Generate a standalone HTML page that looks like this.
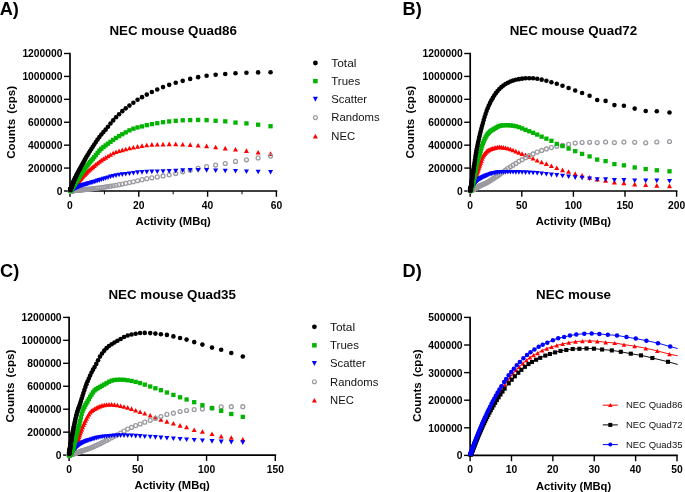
<!DOCTYPE html>
<html><head><meta charset="utf-8"><style>
html,body{margin:0;padding:0;background:#fff;}
body{width:685px;height:492px;overflow:hidden;}
svg{display:block;will-change:transform;}
text{font-family:"Liberation Sans", sans-serif;}
</style></head><body>
<svg width="685" height="492" viewBox="0 0 685 492">
<rect width="685" height="492" fill="#fff"/>
<path d="M70 52.8V191.85" stroke="#000" stroke-width="1.7" fill="none"/>
<path d="M69.15 191H277.25" stroke="#000" stroke-width="1.7" fill="none"/>
<path d="M64 191H70" stroke="#000" stroke-width="1.4"/>
<path d="M64 168.08H70" stroke="#000" stroke-width="1.4"/>
<path d="M64 145.17H70" stroke="#000" stroke-width="1.4"/>
<path d="M64 122.25H70" stroke="#000" stroke-width="1.4"/>
<path d="M64 99.33H70" stroke="#000" stroke-width="1.4"/>
<path d="M64 76.42H70" stroke="#000" stroke-width="1.4"/>
<path d="M64 53.5H70" stroke="#000" stroke-width="1.4"/>
<path d="M70 191V196.8" stroke="#000" stroke-width="1.4"/>
<path d="M138.8 191V196.8" stroke="#000" stroke-width="1.4"/>
<path d="M207.6 191V196.8" stroke="#000" stroke-width="1.4"/>
<path d="M276.4 191V196.8" stroke="#000" stroke-width="1.4"/>
<path d="M104.4 191V194.3" stroke="#000" stroke-width="1"/>
<path d="M173.2 191V194.3" stroke="#000" stroke-width="1"/>
<path d="M242 191V194.3" stroke="#000" stroke-width="1"/>
<text x="62.5" y="194.9" font-size="10" font-weight="bold" text-anchor="end" fill="#000" textLength="5.73" lengthAdjust="spacingAndGlyphs">0</text>
<text x="62.5" y="171.98" font-size="10" font-weight="bold" text-anchor="end" fill="#000" textLength="34.37" lengthAdjust="spacingAndGlyphs">200000</text>
<text x="62.5" y="149.07" font-size="10" font-weight="bold" text-anchor="end" fill="#000" textLength="34.37" lengthAdjust="spacingAndGlyphs">400000</text>
<text x="62.5" y="126.15" font-size="10" font-weight="bold" text-anchor="end" fill="#000" textLength="34.37" lengthAdjust="spacingAndGlyphs">600000</text>
<text x="62.5" y="103.23" font-size="10" font-weight="bold" text-anchor="end" fill="#000" textLength="34.37" lengthAdjust="spacingAndGlyphs">800000</text>
<text x="62.5" y="80.32" font-size="10" font-weight="bold" text-anchor="end" fill="#000" textLength="40.1" lengthAdjust="spacingAndGlyphs">1000000</text>
<text x="62.5" y="57.4" font-size="10" font-weight="bold" text-anchor="end" fill="#000" textLength="40.1" lengthAdjust="spacingAndGlyphs">1200000</text>
<text x="70" y="208.8" font-size="10" font-weight="bold" text-anchor="middle" fill="#000" textLength="5.73" lengthAdjust="spacingAndGlyphs">0</text>
<text x="138.8" y="208.8" font-size="10" font-weight="bold" text-anchor="middle" fill="#000" textLength="11.46" lengthAdjust="spacingAndGlyphs">20</text>
<text x="207.6" y="208.8" font-size="10" font-weight="bold" text-anchor="middle" fill="#000" textLength="11.46" lengthAdjust="spacingAndGlyphs">40</text>
<text x="276.4" y="208.8" font-size="10" font-weight="bold" text-anchor="middle" fill="#000" textLength="11.46" lengthAdjust="spacingAndGlyphs">60</text>
<text x="173.2" y="224.8" font-size="11.2" font-weight="bold" text-anchor="middle" fill="#000">Activity (MBq)</text>
<text transform="translate(15 122.4) rotate(-90)" font-size="11.6" font-weight="bold" text-anchor="middle">Counts <tspan dx="2">(cps)</tspan></text>
<text x="173.2" y="35.2" font-size="13.35" font-weight="bold" text-anchor="middle" fill="#000">NEC mouse Quad86</text>
<text x="-0.3" y="14.8" font-size="18.2" font-weight="bold" text-anchor="start" fill="#000">A)</text>
<path d="M470.2 52.8V191.85" stroke="#000" stroke-width="1.7" fill="none"/>
<path d="M469.35 191H677.45" stroke="#000" stroke-width="1.7" fill="none"/>
<path d="M464.2 191H470.2" stroke="#000" stroke-width="1.4"/>
<path d="M464.2 168.08H470.2" stroke="#000" stroke-width="1.4"/>
<path d="M464.2 145.17H470.2" stroke="#000" stroke-width="1.4"/>
<path d="M464.2 122.25H470.2" stroke="#000" stroke-width="1.4"/>
<path d="M464.2 99.33H470.2" stroke="#000" stroke-width="1.4"/>
<path d="M464.2 76.42H470.2" stroke="#000" stroke-width="1.4"/>
<path d="M464.2 53.5H470.2" stroke="#000" stroke-width="1.4"/>
<path d="M470.2 191V196.8" stroke="#000" stroke-width="1.4"/>
<path d="M521.8 191V196.8" stroke="#000" stroke-width="1.4"/>
<path d="M573.4 191V196.8" stroke="#000" stroke-width="1.4"/>
<path d="M625 191V196.8" stroke="#000" stroke-width="1.4"/>
<path d="M676.6 191V196.8" stroke="#000" stroke-width="1.4"/>
<text x="462.7" y="194.9" font-size="10" font-weight="bold" text-anchor="end" fill="#000" textLength="5.73" lengthAdjust="spacingAndGlyphs">0</text>
<text x="462.7" y="171.98" font-size="10" font-weight="bold" text-anchor="end" fill="#000" textLength="34.37" lengthAdjust="spacingAndGlyphs">200000</text>
<text x="462.7" y="149.07" font-size="10" font-weight="bold" text-anchor="end" fill="#000" textLength="34.37" lengthAdjust="spacingAndGlyphs">400000</text>
<text x="462.7" y="126.15" font-size="10" font-weight="bold" text-anchor="end" fill="#000" textLength="34.37" lengthAdjust="spacingAndGlyphs">600000</text>
<text x="462.7" y="103.23" font-size="10" font-weight="bold" text-anchor="end" fill="#000" textLength="34.37" lengthAdjust="spacingAndGlyphs">800000</text>
<text x="462.7" y="80.32" font-size="10" font-weight="bold" text-anchor="end" fill="#000" textLength="40.1" lengthAdjust="spacingAndGlyphs">1000000</text>
<text x="462.7" y="57.4" font-size="10" font-weight="bold" text-anchor="end" fill="#000" textLength="40.1" lengthAdjust="spacingAndGlyphs">1200000</text>
<text x="470.2" y="208.8" font-size="10" font-weight="bold" text-anchor="middle" fill="#000" textLength="5.73" lengthAdjust="spacingAndGlyphs">0</text>
<text x="521.8" y="208.8" font-size="10" font-weight="bold" text-anchor="middle" fill="#000" textLength="11.46" lengthAdjust="spacingAndGlyphs">50</text>
<text x="573.4" y="208.8" font-size="10" font-weight="bold" text-anchor="middle" fill="#000" textLength="17.18" lengthAdjust="spacingAndGlyphs">100</text>
<text x="625" y="208.8" font-size="10" font-weight="bold" text-anchor="middle" fill="#000" textLength="17.18" lengthAdjust="spacingAndGlyphs">150</text>
<text x="676.6" y="208.8" font-size="10" font-weight="bold" text-anchor="middle" fill="#000" textLength="17.18" lengthAdjust="spacingAndGlyphs">200</text>
<text x="573.4" y="224.8" font-size="11.2" font-weight="bold" text-anchor="middle" fill="#000">Activity (MBq)</text>
<text transform="translate(414.4 122.2) rotate(-90)" font-size="11.6" font-weight="bold" text-anchor="middle">Counts <tspan dx="2">(cps)</tspan></text>
<text x="573.4" y="35.2" font-size="13.35" font-weight="bold" text-anchor="middle" fill="#000">NEC mouse Quad72</text>
<text x="402.6" y="14.8" font-size="18.2" font-weight="bold" text-anchor="start" fill="#000">B)</text>
<path d="M69.1 316.7V455.95" stroke="#000" stroke-width="1.7" fill="none"/>
<path d="M68.25 455.1H276.15" stroke="#000" stroke-width="1.7" fill="none"/>
<path d="M63.1 455.1H69.1" stroke="#000" stroke-width="1.4"/>
<path d="M63.1 432.15H69.1" stroke="#000" stroke-width="1.4"/>
<path d="M63.1 409.2H69.1" stroke="#000" stroke-width="1.4"/>
<path d="M63.1 386.25H69.1" stroke="#000" stroke-width="1.4"/>
<path d="M63.1 363.3H69.1" stroke="#000" stroke-width="1.4"/>
<path d="M63.1 340.35H69.1" stroke="#000" stroke-width="1.4"/>
<path d="M63.1 317.4H69.1" stroke="#000" stroke-width="1.4"/>
<path d="M69.1 455.1V460.9" stroke="#000" stroke-width="1.4"/>
<path d="M137.83 455.1V460.9" stroke="#000" stroke-width="1.4"/>
<path d="M206.57 455.1V460.9" stroke="#000" stroke-width="1.4"/>
<path d="M275.3 455.1V460.9" stroke="#000" stroke-width="1.4"/>
<text x="61.6" y="459" font-size="10" font-weight="bold" text-anchor="end" fill="#000" textLength="5.73" lengthAdjust="spacingAndGlyphs">0</text>
<text x="61.6" y="436.05" font-size="10" font-weight="bold" text-anchor="end" fill="#000" textLength="34.37" lengthAdjust="spacingAndGlyphs">200000</text>
<text x="61.6" y="413.1" font-size="10" font-weight="bold" text-anchor="end" fill="#000" textLength="34.37" lengthAdjust="spacingAndGlyphs">400000</text>
<text x="61.6" y="390.15" font-size="10" font-weight="bold" text-anchor="end" fill="#000" textLength="34.37" lengthAdjust="spacingAndGlyphs">600000</text>
<text x="61.6" y="367.2" font-size="10" font-weight="bold" text-anchor="end" fill="#000" textLength="34.37" lengthAdjust="spacingAndGlyphs">800000</text>
<text x="61.6" y="344.25" font-size="10" font-weight="bold" text-anchor="end" fill="#000" textLength="40.1" lengthAdjust="spacingAndGlyphs">1000000</text>
<text x="61.6" y="321.3" font-size="10" font-weight="bold" text-anchor="end" fill="#000" textLength="40.1" lengthAdjust="spacingAndGlyphs">1200000</text>
<text x="69.1" y="472.8" font-size="10" font-weight="bold" text-anchor="middle" fill="#000" textLength="5.73" lengthAdjust="spacingAndGlyphs">0</text>
<text x="137.83" y="472.8" font-size="10" font-weight="bold" text-anchor="middle" fill="#000" textLength="11.46" lengthAdjust="spacingAndGlyphs">50</text>
<text x="206.57" y="472.8" font-size="10" font-weight="bold" text-anchor="middle" fill="#000" textLength="17.18" lengthAdjust="spacingAndGlyphs">100</text>
<text x="275.3" y="472.8" font-size="10" font-weight="bold" text-anchor="middle" fill="#000" textLength="17.18" lengthAdjust="spacingAndGlyphs">150</text>
<text x="172.2" y="488.8" font-size="11.2" font-weight="bold" text-anchor="middle" fill="#000">Activity (MBq)</text>
<text transform="translate(14.4 386.1) rotate(-90)" font-size="11.6" font-weight="bold" text-anchor="middle">Counts <tspan dx="2">(cps)</tspan></text>
<text x="172.2" y="299.3" font-size="13.35" font-weight="bold" text-anchor="middle" fill="#000">NEC mouse Quad35</text>
<text x="0.1" y="277.3" font-size="18.2" font-weight="bold" text-anchor="start" fill="#000">C)</text>
<path d="M470.1 316.7V456.25" stroke="#000" stroke-width="1.7" fill="none"/>
<path d="M469.25 455.4H677.85" stroke="#000" stroke-width="1.7" fill="none"/>
<path d="M464.1 455.4H470.1" stroke="#000" stroke-width="1.4"/>
<path d="M464.1 427.8H470.1" stroke="#000" stroke-width="1.4"/>
<path d="M464.1 400.2H470.1" stroke="#000" stroke-width="1.4"/>
<path d="M464.1 372.6H470.1" stroke="#000" stroke-width="1.4"/>
<path d="M464.1 345H470.1" stroke="#000" stroke-width="1.4"/>
<path d="M464.1 317.4H470.1" stroke="#000" stroke-width="1.4"/>
<path d="M470.1 455.4V461.2" stroke="#000" stroke-width="1.4"/>
<path d="M511.48 455.4V461.2" stroke="#000" stroke-width="1.4"/>
<path d="M552.86 455.4V461.2" stroke="#000" stroke-width="1.4"/>
<path d="M594.24 455.4V461.2" stroke="#000" stroke-width="1.4"/>
<path d="M635.62 455.4V461.2" stroke="#000" stroke-width="1.4"/>
<path d="M677 455.4V461.2" stroke="#000" stroke-width="1.4"/>
<text x="462.6" y="459.3" font-size="10" font-weight="bold" text-anchor="end" fill="#000" textLength="5.73" lengthAdjust="spacingAndGlyphs">0</text>
<text x="462.6" y="431.7" font-size="10" font-weight="bold" text-anchor="end" fill="#000" textLength="34.37" lengthAdjust="spacingAndGlyphs">100000</text>
<text x="462.6" y="404.1" font-size="10" font-weight="bold" text-anchor="end" fill="#000" textLength="34.37" lengthAdjust="spacingAndGlyphs">200000</text>
<text x="462.6" y="376.5" font-size="10" font-weight="bold" text-anchor="end" fill="#000" textLength="34.37" lengthAdjust="spacingAndGlyphs">300000</text>
<text x="462.6" y="348.9" font-size="10" font-weight="bold" text-anchor="end" fill="#000" textLength="34.37" lengthAdjust="spacingAndGlyphs">400000</text>
<text x="462.6" y="321.3" font-size="10" font-weight="bold" text-anchor="end" fill="#000" textLength="34.37" lengthAdjust="spacingAndGlyphs">500000</text>
<text x="470.1" y="472.7" font-size="10" font-weight="bold" text-anchor="middle" fill="#000" textLength="5.73" lengthAdjust="spacingAndGlyphs">0</text>
<text x="511.48" y="472.7" font-size="10" font-weight="bold" text-anchor="middle" fill="#000" textLength="11.46" lengthAdjust="spacingAndGlyphs">10</text>
<text x="552.86" y="472.7" font-size="10" font-weight="bold" text-anchor="middle" fill="#000" textLength="11.46" lengthAdjust="spacingAndGlyphs">20</text>
<text x="594.24" y="472.7" font-size="10" font-weight="bold" text-anchor="middle" fill="#000" textLength="11.46" lengthAdjust="spacingAndGlyphs">30</text>
<text x="635.62" y="472.7" font-size="10" font-weight="bold" text-anchor="middle" fill="#000" textLength="11.46" lengthAdjust="spacingAndGlyphs">40</text>
<text x="677" y="472.7" font-size="10" font-weight="bold" text-anchor="middle" fill="#000" textLength="11.46" lengthAdjust="spacingAndGlyphs">50</text>
<text x="573.55" y="489.6" font-size="11.2" font-weight="bold" text-anchor="middle" fill="#000">Activity (MBq)</text>
<text transform="translate(420.6 385.7) rotate(-90)" font-size="11.6" font-weight="bold" text-anchor="middle">Counts <tspan dx="2">(cps)</tspan></text>
<text x="573.55" y="299" font-size="13.35" font-weight="bold" text-anchor="middle" fill="#000">NEC mouse</text>
<text x="402.6" y="277" font-size="18.2" font-weight="bold" text-anchor="start" fill="#000">D)</text>
<g fill="#ff0000"><path d="M270.55 151.31L273.05 155.91L268.05 155.91Z"/><path d="M258.12 150L260.62 154.6L255.62 154.6Z"/><path d="M246.45 148.31L248.95 152.91L243.95 152.91Z"/><path d="M235.51 146.99L238.01 151.59L233.01 151.59Z"/><path d="M225.25 145.85L227.75 150.45L222.75 150.45Z"/><path d="M215.63 144.74L218.13 149.34L213.13 149.34Z"/><path d="M206.6 143.56L209.1 148.16L204.1 148.16Z"/><path d="M198.13 142.92L200.63 147.52L195.63 147.52Z"/><path d="M190.18 142.34L192.68 146.94L187.68 146.94Z"/><path d="M182.73 142.01L185.23 146.61L180.23 146.61Z"/><path d="M175.74 141.6L178.24 146.2L173.24 146.2Z"/><path d="M169.19 141.6L171.69 146.2L166.69 146.2Z"/><path d="M163.04 141.8L165.54 146.4L160.54 146.4Z"/><path d="M157.27 141.9L159.77 146.5L154.77 146.5Z"/><path d="M151.86 142.11L154.36 146.71L149.36 146.71Z"/><path d="M146.78 142.73L149.28 147.33L144.28 147.33Z"/><path d="M142.02 143.37L144.52 147.97L139.52 147.97Z"/><path d="M137.56 144.08L140.06 148.68L135.06 148.68Z"/><path d="M133.37 144.96L135.87 149.56L130.87 149.56Z"/><path d="M129.44 145.72L131.94 150.32L126.94 150.32Z"/><path d="M125.75 146.68L128.25 151.28L123.25 151.28Z"/><path d="M122.3 147.61L124.8 152.21L119.8 152.21Z"/><path d="M119.06 148.46L121.56 153.06L116.56 153.06Z"/><path d="M116.01 149.45L118.51 154.05L113.51 154.05Z"/><path d="M113.16 150.71L115.66 155.31L110.66 155.31Z"/><path d="M110.49 152.19L112.99 156.79L107.99 156.79Z"/><path d="M107.98 153.67L110.48 158.27L105.48 158.27Z"/><path d="M105.62 155.06L108.12 159.66L103.12 159.66Z"/><path d="M103.41 156.43L105.91 161.03L100.91 161.03Z"/><path d="M101.34 157.81L103.84 162.41L98.84 162.41Z"/><path d="M99.4 159.22L101.9 163.82L96.9 163.82Z"/><path d="M97.57 160.63L100.07 165.23L95.07 165.23Z"/><path d="M95.87 162.01L98.37 166.61L93.37 166.61Z"/><path d="M94.26 163.31L96.76 167.91L91.76 167.91Z"/><path d="M92.76 164.54L95.26 169.14L90.26 169.14Z"/><path d="M91.35 165.72L93.85 170.32L88.85 170.32Z"/><path d="M90.02 166.85L92.52 171.45L87.52 171.45Z"/><path d="M88.78 167.94L91.28 172.54L86.28 172.54Z"/><path d="M87.62 169L90.12 173.6L85.12 173.6Z"/><path d="M86.52 170.04L89.02 174.64L84.02 174.64Z"/><path d="M85.5 171.06L88 175.66L83 175.66Z"/><path d="M84.54 172.04L87.04 176.64L82.04 176.64Z"/><path d="M83.64 172.98L86.14 177.58L81.14 177.58Z"/><path d="M82.79 173.88L85.29 178.48L80.29 178.48Z"/><path d="M82 174.74L84.5 179.34L79.5 179.34Z"/><path d="M81.26 175.54L83.76 180.14L78.76 180.14Z"/><path d="M80.56 176.31L83.06 180.91L78.06 180.91Z"/><path d="M79.9 177.03L82.4 181.63L77.4 181.63Z"/><path d="M79.29 177.71L81.79 182.31L76.79 182.31Z"/><path d="M78.71 178.35L81.21 182.95L76.21 182.95Z"/><path d="M78.17 178.95L80.67 183.55L75.67 183.55Z"/><path d="M77.67 179.52L80.17 184.12L75.17 184.12Z"/><path d="M77.19 180.06L79.69 184.66L74.69 184.66Z"/><path d="M76.74 180.57L79.24 185.17L74.24 185.17Z"/><path d="M76.33 181.05L78.83 185.65L73.83 185.65Z"/><path d="M75.93 181.5L78.43 186.1L73.43 186.1Z"/><path d="M75.57 181.93L78.07 186.53L73.07 186.53Z"/><path d="M75.22 182.33L77.72 186.93L72.72 186.93Z"/><path d="M74.9 182.7L77.4 187.3L72.4 187.3Z"/><path d="M74.59 183.06L77.09 187.66L72.09 187.66Z"/><path d="M74.31 183.39L76.81 187.99L71.81 187.99Z"/><path d="M74.04 183.71L76.54 188.31L71.54 188.31Z"/><path d="M73.79 184.01L76.29 188.61L71.29 188.61Z"/><path d="M73.56 184.28L76.06 188.88L71.06 188.88Z"/><path d="M73.34 184.55L75.84 189.15L70.84 189.15Z"/><path d="M73.13 184.79L75.63 189.39L70.63 189.39Z"/><path d="M72.94 185.02L75.44 189.62L70.44 189.62Z"/><path d="M72.75 185.24L75.25 189.84L70.25 189.84Z"/><path d="M72.58 185.45L75.08 190.05L70.08 190.05Z"/><path d="M72.42 185.64L74.92 190.24L69.92 190.24Z"/><path d="M72.27 185.82L74.77 190.42L69.77 190.42Z"/><path d="M72.13 185.99L74.63 190.59L69.63 190.59Z"/><path d="M72 186.15L74.5 190.75L69.5 190.75Z"/><path d="M71.88 186.3L74.38 190.9L69.38 190.9Z"/><path d="M71.76 186.44L74.26 191.04L69.26 191.04Z"/><path d="M71.65 186.57L74.15 191.17L69.15 191.17Z"/><path d="M71.55 186.7L74.05 191.3L69.05 191.3Z"/><path d="M71.45 186.82L73.95 191.42L68.95 191.42Z"/><path d="M71.36 186.93L73.86 191.53L68.86 191.53Z"/><path d="M71.28 187.03L73.78 191.63L68.78 191.63Z"/><path d="M71.2 187.13L73.7 191.73L68.7 191.73Z"/><path d="M71.12 187.22L73.62 191.82L68.62 191.82Z"/><path d="M71.05 187.3L73.55 191.9L68.55 191.9Z"/><path d="M70.99 187.38L73.49 191.98L68.49 191.98Z"/><path d="M70.93 187.46L73.43 192.06L68.43 192.06Z"/><path d="M70.87 187.53L73.37 192.13L68.37 192.13Z"/><path d="M70.82 187.59L73.32 192.19L68.32 192.19Z"/><path d="M70.77 187.66L73.27 192.26L68.27 192.26Z"/><path d="M70.72 187.71L73.22 192.31L68.22 192.31Z"/><path d="M70.67 187.77L73.17 192.37L68.17 192.37Z"/><path d="M70.63 187.82L73.13 192.42L68.13 192.42Z"/><path d="M70.59 187.87L73.09 192.47L68.09 192.47Z"/><path d="M70.56 187.91L73.06 192.51L68.06 192.51Z"/><path d="M70.52 187.96L73.02 192.56L68.02 192.56Z"/><path d="M70.49 188L72.99 192.6L67.99 192.6Z"/><path d="M70.46 188.03L72.96 192.63L67.96 192.63Z"/><path d="M70.43 188.07L72.93 192.67L67.93 192.67Z"/></g>
<g><circle cx="270.55" cy="156.08" r="1.95" fill="none" stroke="#9a9aa0" stroke-width="1.3"/><circle cx="258.12" cy="157.9" r="1.95" fill="none" stroke="#9a9aa0" stroke-width="1.3"/><circle cx="246.45" cy="159.79" r="1.95" fill="none" stroke="#9a9aa0" stroke-width="1.3"/><circle cx="235.51" cy="161.41" r="1.95" fill="none" stroke="#9a9aa0" stroke-width="1.3"/><circle cx="225.25" cy="163.48" r="1.95" fill="none" stroke="#9a9aa0" stroke-width="1.3"/><circle cx="215.63" cy="165.08" r="1.95" fill="none" stroke="#9a9aa0" stroke-width="1.3"/><circle cx="206.6" cy="166.67" r="1.95" fill="none" stroke="#9a9aa0" stroke-width="1.3"/><circle cx="198.13" cy="168.33" r="1.95" fill="none" stroke="#9a9aa0" stroke-width="1.3"/><circle cx="190.18" cy="170.23" r="1.95" fill="none" stroke="#9a9aa0" stroke-width="1.3"/><circle cx="182.73" cy="171.87" r="1.95" fill="none" stroke="#9a9aa0" stroke-width="1.3"/><circle cx="175.74" cy="173.53" r="1.95" fill="none" stroke="#9a9aa0" stroke-width="1.3"/><circle cx="169.19" cy="174.86" r="1.95" fill="none" stroke="#9a9aa0" stroke-width="1.3"/><circle cx="163.04" cy="175.93" r="1.95" fill="none" stroke="#9a9aa0" stroke-width="1.3"/><circle cx="157.27" cy="176.92" r="1.95" fill="none" stroke="#9a9aa0" stroke-width="1.3"/><circle cx="151.86" cy="177.82" r="1.95" fill="none" stroke="#9a9aa0" stroke-width="1.3"/><circle cx="146.78" cy="178.64" r="1.95" fill="none" stroke="#9a9aa0" stroke-width="1.3"/><circle cx="142.02" cy="179.67" r="1.95" fill="none" stroke="#9a9aa0" stroke-width="1.3"/><circle cx="137.56" cy="180.77" r="1.95" fill="none" stroke="#9a9aa0" stroke-width="1.3"/><circle cx="133.37" cy="181.74" r="1.95" fill="none" stroke="#9a9aa0" stroke-width="1.3"/><circle cx="129.44" cy="182.59" r="1.95" fill="none" stroke="#9a9aa0" stroke-width="1.3"/><circle cx="125.75" cy="183.36" r="1.95" fill="none" stroke="#9a9aa0" stroke-width="1.3"/><circle cx="122.3" cy="184.05" r="1.95" fill="none" stroke="#9a9aa0" stroke-width="1.3"/><circle cx="119.06" cy="184.67" r="1.95" fill="none" stroke="#9a9aa0" stroke-width="1.3"/><circle cx="116.01" cy="185.24" r="1.95" fill="none" stroke="#9a9aa0" stroke-width="1.3"/><circle cx="113.16" cy="185.75" r="1.95" fill="none" stroke="#9a9aa0" stroke-width="1.3"/><circle cx="110.49" cy="186.2" r="1.95" fill="none" stroke="#9a9aa0" stroke-width="1.3"/><circle cx="107.98" cy="186.6" r="1.95" fill="none" stroke="#9a9aa0" stroke-width="1.3"/><circle cx="105.62" cy="186.93" r="1.95" fill="none" stroke="#9a9aa0" stroke-width="1.3"/><circle cx="103.41" cy="187.24" r="1.95" fill="none" stroke="#9a9aa0" stroke-width="1.3"/><circle cx="101.34" cy="187.52" r="1.95" fill="none" stroke="#9a9aa0" stroke-width="1.3"/><circle cx="99.4" cy="187.8" r="1.95" fill="none" stroke="#9a9aa0" stroke-width="1.3"/><circle cx="97.57" cy="188.07" r="1.95" fill="none" stroke="#9a9aa0" stroke-width="1.3"/><circle cx="95.87" cy="188.31" r="1.95" fill="none" stroke="#9a9aa0" stroke-width="1.3"/><circle cx="94.26" cy="188.52" r="1.95" fill="none" stroke="#9a9aa0" stroke-width="1.3"/><circle cx="92.76" cy="188.7" r="1.95" fill="none" stroke="#9a9aa0" stroke-width="1.3"/><circle cx="91.35" cy="188.86" r="1.95" fill="none" stroke="#9a9aa0" stroke-width="1.3"/><circle cx="90.02" cy="189.01" r="1.95" fill="none" stroke="#9a9aa0" stroke-width="1.3"/><circle cx="88.78" cy="189.14" r="1.95" fill="none" stroke="#9a9aa0" stroke-width="1.3"/><circle cx="87.62" cy="189.27" r="1.95" fill="none" stroke="#9a9aa0" stroke-width="1.3"/><circle cx="86.52" cy="189.38" r="1.95" fill="none" stroke="#9a9aa0" stroke-width="1.3"/><circle cx="85.5" cy="189.49" r="1.95" fill="none" stroke="#9a9aa0" stroke-width="1.3"/><circle cx="84.54" cy="189.58" r="1.95" fill="none" stroke="#9a9aa0" stroke-width="1.3"/><circle cx="83.64" cy="189.67" r="1.95" fill="none" stroke="#9a9aa0" stroke-width="1.3"/><circle cx="82.79" cy="189.75" r="1.95" fill="none" stroke="#9a9aa0" stroke-width="1.3"/><circle cx="82" cy="189.83" r="1.95" fill="none" stroke="#9a9aa0" stroke-width="1.3"/><circle cx="81.26" cy="189.9" r="1.95" fill="none" stroke="#9a9aa0" stroke-width="1.3"/><circle cx="80.56" cy="189.97" r="1.95" fill="none" stroke="#9a9aa0" stroke-width="1.3"/><circle cx="79.9" cy="190.03" r="1.95" fill="none" stroke="#9a9aa0" stroke-width="1.3"/><circle cx="79.29" cy="190.08" r="1.95" fill="none" stroke="#9a9aa0" stroke-width="1.3"/><circle cx="78.71" cy="190.14" r="1.95" fill="none" stroke="#9a9aa0" stroke-width="1.3"/><circle cx="78.17" cy="190.19" r="1.95" fill="none" stroke="#9a9aa0" stroke-width="1.3"/><circle cx="77.67" cy="190.23" r="1.95" fill="none" stroke="#9a9aa0" stroke-width="1.3"/><circle cx="77.19" cy="190.28" r="1.95" fill="none" stroke="#9a9aa0" stroke-width="1.3"/><circle cx="76.74" cy="190.32" r="1.95" fill="none" stroke="#9a9aa0" stroke-width="1.3"/><circle cx="76.33" cy="190.36" r="1.95" fill="none" stroke="#9a9aa0" stroke-width="1.3"/><circle cx="75.93" cy="190.39" r="1.95" fill="none" stroke="#9a9aa0" stroke-width="1.3"/><circle cx="75.57" cy="190.42" r="1.95" fill="none" stroke="#9a9aa0" stroke-width="1.3"/><circle cx="75.22" cy="190.45" r="1.95" fill="none" stroke="#9a9aa0" stroke-width="1.3"/><circle cx="74.9" cy="190.48" r="1.95" fill="none" stroke="#9a9aa0" stroke-width="1.3"/><circle cx="74.59" cy="190.51" r="1.95" fill="none" stroke="#9a9aa0" stroke-width="1.3"/><circle cx="74.31" cy="190.53" r="1.95" fill="none" stroke="#9a9aa0" stroke-width="1.3"/><circle cx="74.04" cy="190.56" r="1.95" fill="none" stroke="#9a9aa0" stroke-width="1.3"/><circle cx="73.79" cy="190.58" r="1.95" fill="none" stroke="#9a9aa0" stroke-width="1.3"/><circle cx="73.56" cy="190.6" r="1.95" fill="none" stroke="#9a9aa0" stroke-width="1.3"/><circle cx="73.34" cy="190.62" r="1.95" fill="none" stroke="#9a9aa0" stroke-width="1.3"/><circle cx="73.13" cy="190.64" r="1.95" fill="none" stroke="#9a9aa0" stroke-width="1.3"/><circle cx="72.94" cy="190.65" r="1.95" fill="none" stroke="#9a9aa0" stroke-width="1.3"/><circle cx="72.75" cy="190.67" r="1.95" fill="none" stroke="#9a9aa0" stroke-width="1.3"/><circle cx="72.58" cy="190.68" r="1.95" fill="none" stroke="#9a9aa0" stroke-width="1.3"/><circle cx="72.42" cy="190.7" r="1.95" fill="none" stroke="#9a9aa0" stroke-width="1.3"/><circle cx="72.27" cy="190.71" r="1.95" fill="none" stroke="#9a9aa0" stroke-width="1.3"/><circle cx="72.13" cy="190.72" r="1.95" fill="none" stroke="#9a9aa0" stroke-width="1.3"/><circle cx="72" cy="190.73" r="1.95" fill="none" stroke="#9a9aa0" stroke-width="1.3"/><circle cx="71.88" cy="190.74" r="1.95" fill="none" stroke="#9a9aa0" stroke-width="1.3"/><circle cx="71.76" cy="190.75" r="1.95" fill="none" stroke="#9a9aa0" stroke-width="1.3"/><circle cx="71.65" cy="190.76" r="1.95" fill="none" stroke="#9a9aa0" stroke-width="1.3"/><circle cx="71.55" cy="190.77" r="1.95" fill="none" stroke="#9a9aa0" stroke-width="1.3"/><circle cx="71.45" cy="190.78" r="1.95" fill="none" stroke="#9a9aa0" stroke-width="1.3"/><circle cx="71.36" cy="190.79" r="1.95" fill="none" stroke="#9a9aa0" stroke-width="1.3"/><circle cx="71.28" cy="190.79" r="1.95" fill="none" stroke="#9a9aa0" stroke-width="1.3"/><circle cx="71.2" cy="190.8" r="1.95" fill="none" stroke="#9a9aa0" stroke-width="1.3"/><circle cx="71.12" cy="190.81" r="1.95" fill="none" stroke="#9a9aa0" stroke-width="1.3"/><circle cx="71.05" cy="190.81" r="1.95" fill="none" stroke="#9a9aa0" stroke-width="1.3"/><circle cx="70.99" cy="190.82" r="1.95" fill="none" stroke="#9a9aa0" stroke-width="1.3"/><circle cx="70.93" cy="190.82" r="1.95" fill="none" stroke="#9a9aa0" stroke-width="1.3"/><circle cx="70.87" cy="190.83" r="1.95" fill="none" stroke="#9a9aa0" stroke-width="1.3"/><circle cx="70.82" cy="190.83" r="1.95" fill="none" stroke="#9a9aa0" stroke-width="1.3"/><circle cx="70.77" cy="190.84" r="1.95" fill="none" stroke="#9a9aa0" stroke-width="1.3"/><circle cx="70.72" cy="190.84" r="1.95" fill="none" stroke="#9a9aa0" stroke-width="1.3"/><circle cx="70.67" cy="190.84" r="1.95" fill="none" stroke="#9a9aa0" stroke-width="1.3"/><circle cx="70.63" cy="190.85" r="1.95" fill="none" stroke="#9a9aa0" stroke-width="1.3"/><circle cx="70.59" cy="190.85" r="1.95" fill="none" stroke="#9a9aa0" stroke-width="1.3"/><circle cx="70.56" cy="190.85" r="1.95" fill="none" stroke="#9a9aa0" stroke-width="1.3"/><circle cx="70.52" cy="190.86" r="1.95" fill="none" stroke="#9a9aa0" stroke-width="1.3"/><circle cx="70.49" cy="190.86" r="1.95" fill="none" stroke="#9a9aa0" stroke-width="1.3"/><circle cx="70.46" cy="190.86" r="1.95" fill="none" stroke="#9a9aa0" stroke-width="1.3"/><circle cx="70.43" cy="190.86" r="1.95" fill="none" stroke="#9a9aa0" stroke-width="1.3"/></g>
<g fill="#0000ff"><path d="M268.05 170L273.05 170L270.55 174.6Z"/><path d="M255.62 169.7L260.62 169.7L258.12 174.3Z"/><path d="M243.95 169.5L248.95 169.5L246.45 174.1Z"/><path d="M233.01 168.9L238.01 168.9L235.51 173.5Z"/><path d="M222.75 168.69L227.75 168.69L225.25 173.29Z"/><path d="M213.13 168.38L218.13 168.38L215.63 172.98Z"/><path d="M204.1 168.1L209.1 168.1L206.6 172.7Z"/><path d="M195.63 168.1L200.63 168.1L198.13 172.7Z"/><path d="M187.68 168.1L192.68 168.1L190.18 172.7Z"/><path d="M180.23 168.29L185.23 168.29L182.73 172.89Z"/><path d="M173.24 168.81L178.24 168.81L175.74 173.41Z"/><path d="M166.69 169.11L171.69 169.11L169.19 173.71Z"/><path d="M160.54 169.2L165.54 169.2L163.04 173.8Z"/><path d="M154.77 169.5L159.77 169.5L157.27 174.1Z"/><path d="M149.36 169.6L154.36 169.6L151.86 174.2Z"/><path d="M144.28 169.81L149.28 169.81L146.78 174.41Z"/><path d="M139.52 170.03L144.52 170.03L142.02 174.63Z"/><path d="M135.06 170.34L140.06 170.34L137.56 174.94Z"/><path d="M130.87 170.91L135.87 170.91L133.37 175.51Z"/><path d="M126.94 171.43L131.94 171.43L129.44 176.03Z"/><path d="M123.25 171.93L128.25 171.93L125.75 176.53Z"/><path d="M119.8 172.33L124.8 172.33L122.3 176.93Z"/><path d="M116.56 172.75L121.56 172.75L119.06 177.35Z"/><path d="M113.51 173.33L118.51 173.33L116.01 177.93Z"/><path d="M110.66 173.89L115.66 173.89L113.16 178.49Z"/><path d="M107.99 174.57L112.99 174.57L110.49 179.17Z"/><path d="M105.48 175.51L110.48 175.51L107.98 180.11Z"/><path d="M103.12 176.22L108.12 176.22L105.62 180.82Z"/><path d="M100.91 176.84L105.91 176.84L103.41 181.44Z"/><path d="M98.84 177.45L103.84 177.45L101.34 182.05Z"/><path d="M96.9 178.05L101.9 178.05L99.4 182.65Z"/><path d="M95.07 178.62L100.07 178.62L97.57 183.22Z"/><path d="M93.37 179.15L98.37 179.15L95.87 183.75Z"/><path d="M91.76 179.64L96.76 179.64L94.26 184.24Z"/><path d="M90.26 180.09L95.26 180.09L92.76 184.69Z"/><path d="M88.85 180.51L93.85 180.51L91.35 185.11Z"/><path d="M87.52 180.9L92.52 180.9L90.02 185.5Z"/><path d="M86.28 181.26L91.28 181.26L88.78 185.86Z"/><path d="M85.12 181.61L90.12 181.61L87.62 186.21Z"/><path d="M84.02 181.92L89.02 181.92L86.52 186.52Z"/><path d="M83 182.21L88 182.21L85.5 186.81Z"/><path d="M82.04 182.48L87.04 182.48L84.54 187.08Z"/><path d="M81.14 182.73L86.14 182.73L83.64 187.33Z"/><path d="M80.29 182.97L85.29 182.97L82.79 187.57Z"/><path d="M79.5 183.21L84.5 183.21L82 187.81Z"/><path d="M78.76 183.44L83.76 183.44L81.26 188.04Z"/><path d="M78.06 183.67L83.06 183.67L80.56 188.27Z"/><path d="M77.4 183.91L82.4 183.91L79.9 188.51Z"/><path d="M76.79 184.14L81.79 184.14L79.29 188.74Z"/><path d="M76.21 184.36L81.21 184.36L78.71 188.96Z"/><path d="M75.67 184.57L80.67 184.57L78.17 189.17Z"/><path d="M75.17 184.78L80.17 184.78L77.67 189.38Z"/><path d="M74.69 184.98L79.69 184.98L77.19 189.58Z"/><path d="M74.24 185.18L79.24 185.18L76.74 189.78Z"/><path d="M73.83 185.36L78.83 185.36L76.33 189.96Z"/><path d="M73.43 185.54L78.43 185.54L75.93 190.14Z"/><path d="M73.07 185.71L78.07 185.71L75.57 190.31Z"/><path d="M72.72 185.87L77.72 185.87L75.22 190.47Z"/><path d="M72.4 186.02L77.4 186.02L74.9 190.62Z"/><path d="M72.09 186.17L77.09 186.17L74.59 190.77Z"/><path d="M71.81 186.31L76.81 186.31L74.31 190.91Z"/><path d="M71.54 186.44L76.54 186.44L74.04 191.04Z"/><path d="M71.29 186.56L76.29 186.56L73.79 191.16Z"/><path d="M71.06 186.68L76.06 186.68L73.56 191.28Z"/><path d="M70.84 186.79L75.84 186.79L73.34 191.39Z"/><path d="M70.63 186.9L75.63 186.9L73.13 191.5Z"/><path d="M70.44 187L75.44 187L72.94 191.6Z"/><path d="M70.25 187.09L75.25 187.09L72.75 191.69Z"/><path d="M70.08 187.18L75.08 187.18L72.58 191.78Z"/><path d="M69.92 187.27L74.92 187.27L72.42 191.87Z"/><path d="M69.77 187.35L74.77 187.35L72.27 191.95Z"/><path d="M69.63 187.42L74.63 187.42L72.13 192.02Z"/><path d="M69.5 187.49L74.5 187.49L72 192.09Z"/><path d="M69.38 187.56L74.38 187.56L71.88 192.16Z"/><path d="M69.26 187.62L74.26 187.62L71.76 192.22Z"/><path d="M69.15 187.68L74.15 187.68L71.65 192.28Z"/><path d="M69.05 187.73L74.05 187.73L71.55 192.33Z"/><path d="M68.95 187.79L73.95 187.79L71.45 192.39Z"/><path d="M68.86 187.84L73.86 187.84L71.36 192.44Z"/><path d="M68.78 187.88L73.78 187.88L71.28 192.48Z"/><path d="M68.7 187.93L73.7 187.93L71.2 192.53Z"/><path d="M68.62 187.97L73.62 187.97L71.12 192.57Z"/><path d="M68.55 188.01L73.55 188.01L71.05 192.61Z"/><path d="M68.49 188.04L73.49 188.04L70.99 192.64Z"/><path d="M68.43 188.08L73.43 188.08L70.93 192.68Z"/><path d="M68.37 188.11L73.37 188.11L70.87 192.71Z"/><path d="M68.32 188.14L73.32 188.14L70.82 192.74Z"/><path d="M68.27 188.17L73.27 188.17L70.77 192.77Z"/><path d="M68.22 188.19L73.22 188.19L70.72 192.79Z"/><path d="M68.17 188.22L73.17 188.22L70.67 192.82Z"/><path d="M68.13 188.24L73.13 188.24L70.63 192.84Z"/><path d="M68.09 188.26L73.09 188.26L70.59 192.86Z"/><path d="M68.06 188.28L73.06 188.28L70.56 192.88Z"/><path d="M68.02 188.3L73.02 188.3L70.52 192.9Z"/><path d="M67.99 188.32L72.99 188.32L70.49 192.92Z"/><path d="M67.96 188.34L72.96 188.34L70.46 192.94Z"/><path d="M67.93 188.35L72.93 188.35L70.43 192.95Z"/></g>
<g fill="#00b400"><rect x="268.4" y="124.07" width="4.3" height="4.3"/><rect x="255.97" y="122.55" width="4.3" height="4.3"/><rect x="244.3" y="121.25" width="4.3" height="4.3"/><rect x="233.36" y="120.44" width="4.3" height="4.3"/><rect x="223.1" y="119.21" width="4.3" height="4.3"/><rect x="213.48" y="118.62" width="4.3" height="4.3"/><rect x="204.45" y="118.03" width="4.3" height="4.3"/><rect x="195.98" y="117.75" width="4.3" height="4.3"/><rect x="188.03" y="117.93" width="4.3" height="4.3"/><rect x="180.58" y="118.14" width="4.3" height="4.3"/><rect x="173.59" y="118.66" width="4.3" height="4.3"/><rect x="167.04" y="119.28" width="4.3" height="4.3"/><rect x="160.89" y="120.07" width="4.3" height="4.3"/><rect x="155.12" y="121.07" width="4.3" height="4.3"/><rect x="149.71" y="121.98" width="4.3" height="4.3"/><rect x="144.63" y="123" width="4.3" height="4.3"/><rect x="139.87" y="124.26" width="4.3" height="4.3"/><rect x="135.41" y="125.27" width="4.3" height="4.3"/><rect x="131.22" y="126.53" width="4.3" height="4.3"/><rect x="127.29" y="128.22" width="4.3" height="4.3"/><rect x="123.6" y="130.21" width="4.3" height="4.3"/><rect x="120.15" y="132.1" width="4.3" height="4.3"/><rect x="116.91" y="133.96" width="4.3" height="4.3"/><rect x="113.86" y="135.83" width="4.3" height="4.3"/><rect x="111.01" y="137.76" width="4.3" height="4.3"/><rect x="108.34" y="139.68" width="4.3" height="4.3"/><rect x="105.83" y="141.54" width="4.3" height="4.3"/><rect x="103.47" y="143.26" width="4.3" height="4.3"/><rect x="101.26" y="144.9" width="4.3" height="4.3"/><rect x="99.19" y="146.6" width="4.3" height="4.3"/><rect x="97.25" y="148.48" width="4.3" height="4.3"/><rect x="95.42" y="150.7" width="4.3" height="4.3"/><rect x="93.72" y="152.97" width="4.3" height="4.3"/><rect x="92.11" y="155.02" width="4.3" height="4.3"/><rect x="90.61" y="156.77" width="4.3" height="4.3"/><rect x="89.2" y="158.37" width="4.3" height="4.3"/><rect x="87.87" y="159.87" width="4.3" height="4.3"/><rect x="86.63" y="161.32" width="4.3" height="4.3"/><rect x="85.47" y="162.75" width="4.3" height="4.3"/><rect x="84.37" y="164.17" width="4.3" height="4.3"/><rect x="83.35" y="165.57" width="4.3" height="4.3"/><rect x="82.39" y="166.93" width="4.3" height="4.3"/><rect x="81.49" y="168.24" width="4.3" height="4.3"/><rect x="80.64" y="169.48" width="4.3" height="4.3"/><rect x="79.85" y="170.66" width="4.3" height="4.3"/><rect x="79.11" y="171.77" width="4.3" height="4.3"/><rect x="78.41" y="172.82" width="4.3" height="4.3"/><rect x="77.75" y="173.79" width="4.3" height="4.3"/><rect x="77.14" y="174.72" width="4.3" height="4.3"/><rect x="76.56" y="175.61" width="4.3" height="4.3"/><rect x="76.02" y="176.45" width="4.3" height="4.3"/><rect x="75.52" y="177.23" width="4.3" height="4.3"/><rect x="75.04" y="177.97" width="4.3" height="4.3"/><rect x="74.59" y="178.67" width="4.3" height="4.3"/><rect x="74.18" y="179.32" width="4.3" height="4.3"/><rect x="73.78" y="179.92" width="4.3" height="4.3"/><rect x="73.42" y="180.49" width="4.3" height="4.3"/><rect x="73.07" y="181.01" width="4.3" height="4.3"/><rect x="72.75" y="181.5" width="4.3" height="4.3"/><rect x="72.44" y="181.96" width="4.3" height="4.3"/><rect x="72.16" y="182.39" width="4.3" height="4.3"/><rect x="71.89" y="182.79" width="4.3" height="4.3"/><rect x="71.64" y="183.16" width="4.3" height="4.3"/><rect x="71.41" y="183.52" width="4.3" height="4.3"/><rect x="71.19" y="183.84" width="4.3" height="4.3"/><rect x="70.98" y="184.15" width="4.3" height="4.3"/><rect x="70.79" y="184.44" width="4.3" height="4.3"/><rect x="70.6" y="184.71" width="4.3" height="4.3"/><rect x="70.43" y="184.96" width="4.3" height="4.3"/><rect x="70.27" y="185.2" width="4.3" height="4.3"/><rect x="70.12" y="185.42" width="4.3" height="4.3"/><rect x="69.98" y="185.63" width="4.3" height="4.3"/><rect x="69.85" y="185.83" width="4.3" height="4.3"/><rect x="69.73" y="186.01" width="4.3" height="4.3"/><rect x="69.61" y="186.18" width="4.3" height="4.3"/><rect x="69.5" y="186.34" width="4.3" height="4.3"/><rect x="69.4" y="186.49" width="4.3" height="4.3"/><rect x="69.3" y="186.63" width="4.3" height="4.3"/><rect x="69.21" y="186.76" width="4.3" height="4.3"/><rect x="69.13" y="186.89" width="4.3" height="4.3"/><rect x="69.05" y="187" width="4.3" height="4.3"/><rect x="68.97" y="187.11" width="4.3" height="4.3"/><rect x="68.9" y="187.21" width="4.3" height="4.3"/><rect x="68.84" y="187.31" width="4.3" height="4.3"/><rect x="68.78" y="187.4" width="4.3" height="4.3"/><rect x="68.72" y="187.48" width="4.3" height="4.3"/><rect x="68.67" y="187.56" width="4.3" height="4.3"/><rect x="68.62" y="187.64" width="4.3" height="4.3"/><rect x="68.57" y="187.71" width="4.3" height="4.3"/><rect x="68.52" y="187.77" width="4.3" height="4.3"/><rect x="68.48" y="187.83" width="4.3" height="4.3"/><rect x="68.44" y="187.89" width="4.3" height="4.3"/><rect x="68.41" y="187.94" width="4.3" height="4.3"/><rect x="68.37" y="187.99" width="4.3" height="4.3"/><rect x="68.34" y="188.04" width="4.3" height="4.3"/><rect x="68.31" y="188.08" width="4.3" height="4.3"/><rect x="68.28" y="188.12" width="4.3" height="4.3"/></g>
<g fill="#000"><circle cx="270.55" cy="72.3" r="2.3"/><circle cx="258.12" cy="72.4" r="2.3"/><circle cx="246.45" cy="72.76" r="2.3"/><circle cx="235.51" cy="73.3" r="2.3"/><circle cx="225.25" cy="73.94" r="2.3"/><circle cx="215.63" cy="74.75" r="2.3"/><circle cx="206.6" cy="75.81" r="2.3"/><circle cx="198.13" cy="77.14" r="2.3"/><circle cx="190.18" cy="78.88" r="2.3"/><circle cx="182.73" cy="80.85" r="2.3"/><circle cx="175.74" cy="82.79" r="2.3"/><circle cx="169.19" cy="84.84" r="2.3"/><circle cx="163.04" cy="87.1" r="2.3"/><circle cx="157.27" cy="89.5" r="2.3"/><circle cx="151.86" cy="92.03" r="2.3"/><circle cx="146.78" cy="94.61" r="2.3"/><circle cx="142.02" cy="97.17" r="2.3"/><circle cx="137.56" cy="99.82" r="2.3"/><circle cx="133.37" cy="102.71" r="2.3"/><circle cx="129.44" cy="105.61" r="2.3"/><circle cx="125.75" cy="108.35" r="2.3"/><circle cx="122.3" cy="111.16" r="2.3"/><circle cx="119.06" cy="114.2" r="2.3"/><circle cx="116.01" cy="117.3" r="2.3"/><circle cx="113.16" cy="120.39" r="2.3"/><circle cx="110.49" cy="123.5" r="2.3"/><circle cx="107.98" cy="126.71" r="2.3"/><circle cx="105.62" cy="129.65" r="2.3"/><circle cx="103.41" cy="132.09" r="2.3"/><circle cx="101.34" cy="134.5" r="2.3"/><circle cx="99.4" cy="137.06" r="2.3"/><circle cx="97.57" cy="139.62" r="2.3"/><circle cx="95.87" cy="142.12" r="2.3"/><circle cx="94.26" cy="144.51" r="2.3"/><circle cx="92.76" cy="146.77" r="2.3"/><circle cx="91.35" cy="148.95" r="2.3"/><circle cx="90.02" cy="151.04" r="2.3"/><circle cx="88.78" cy="153.04" r="2.3"/><circle cx="87.62" cy="154.97" r="2.3"/><circle cx="86.52" cy="156.82" r="2.3"/><circle cx="85.5" cy="158.6" r="2.3"/><circle cx="84.54" cy="160.3" r="2.3"/><circle cx="83.64" cy="161.93" r="2.3"/><circle cx="82.79" cy="163.47" r="2.3"/><circle cx="82" cy="164.93" r="2.3"/><circle cx="81.26" cy="166.32" r="2.3"/><circle cx="80.56" cy="167.63" r="2.3"/><circle cx="79.9" cy="168.86" r="2.3"/><circle cx="79.29" cy="170.01" r="2.3"/><circle cx="78.71" cy="171.08" r="2.3"/><circle cx="78.17" cy="172.09" r="2.3"/><circle cx="77.67" cy="173.05" r="2.3"/><circle cx="77.19" cy="173.96" r="2.3"/><circle cx="76.74" cy="174.83" r="2.3"/><circle cx="76.33" cy="175.66" r="2.3"/><circle cx="75.93" cy="176.45" r="2.3"/><circle cx="75.57" cy="177.21" r="2.3"/><circle cx="75.22" cy="177.93" r="2.3"/><circle cx="74.9" cy="178.63" r="2.3"/><circle cx="74.59" cy="179.29" r="2.3"/><circle cx="74.31" cy="179.93" r="2.3"/><circle cx="74.04" cy="180.54" r="2.3"/><circle cx="73.79" cy="181.12" r="2.3"/><circle cx="73.56" cy="181.67" r="2.3"/><circle cx="73.34" cy="182.2" r="2.3"/><circle cx="73.13" cy="182.7" r="2.3"/><circle cx="72.94" cy="183.17" r="2.3"/><circle cx="72.75" cy="183.62" r="2.3"/><circle cx="72.58" cy="184.05" r="2.3"/><circle cx="72.42" cy="184.45" r="2.3"/><circle cx="72.27" cy="184.83" r="2.3"/><circle cx="72.13" cy="185.19" r="2.3"/><circle cx="72" cy="185.53" r="2.3"/><circle cx="71.88" cy="185.85" r="2.3"/><circle cx="71.76" cy="186.15" r="2.3"/><circle cx="71.65" cy="186.44" r="2.3"/><circle cx="71.55" cy="186.7" r="2.3"/><circle cx="71.45" cy="186.96" r="2.3"/><circle cx="71.36" cy="187.2" r="2.3"/><circle cx="71.28" cy="187.42" r="2.3"/><circle cx="71.2" cy="187.63" r="2.3"/><circle cx="71.12" cy="187.83" r="2.3"/><circle cx="71.05" cy="188.02" r="2.3"/><circle cx="70.99" cy="188.19" r="2.3"/><circle cx="70.93" cy="188.36" r="2.3"/><circle cx="70.87" cy="188.51" r="2.3"/><circle cx="70.82" cy="188.66" r="2.3"/><circle cx="70.77" cy="188.8" r="2.3"/><circle cx="70.72" cy="188.92" r="2.3"/><circle cx="70.67" cy="189.05" r="2.3"/><circle cx="70.63" cy="189.16" r="2.3"/><circle cx="70.59" cy="189.27" r="2.3"/><circle cx="70.56" cy="189.37" r="2.3"/><circle cx="70.52" cy="189.46" r="2.3"/><circle cx="70.49" cy="189.55" r="2.3"/><circle cx="70.46" cy="189.63" r="2.3"/><circle cx="70.43" cy="189.71" r="2.3"/></g>
<g fill="#ff0000"><path d="M669.5 183.6L672 188.2L667 188.2Z"/><path d="M656.8 183.1L659.3 187.7L654.3 187.7Z"/><path d="M645.7 182.49L648.2 187.09L643.2 187.09Z"/><path d="M634.7 181.79L637.2 186.39L632.2 186.39Z"/><path d="M623.9 180.62L626.4 185.22L621.4 185.22Z"/><path d="M614.4 179.81L616.9 184.41L611.9 184.41Z"/><path d="M605.6 178.1L608.1 182.7L603.1 182.7Z"/><path d="M597.2 176.8L599.7 181.4L594.7 181.4Z"/><path d="M589.6 175.1L592.1 179.7L587.1 179.7Z"/><path d="M582.1 173.1L584.6 177.7L579.6 177.7Z"/><path d="M575.2 171.33L577.7 175.93L572.7 175.93Z"/><path d="M568.61 169.22L571.11 173.82L566.11 173.82Z"/><path d="M562.5 167.58L565 172.18L560 172.18Z"/><path d="M556.78 165.52L559.28 170.12L554.28 170.12Z"/><path d="M551.41 163.44L553.91 168.04L548.91 168.04Z"/><path d="M546.38 161.3L548.88 165.9L543.88 165.9Z"/><path d="M541.65 159.64L544.15 164.24L539.15 164.24Z"/><path d="M537.22 157.95L539.72 162.55L534.72 162.55Z"/><path d="M533.07 155.93L535.57 160.53L530.57 160.53Z"/><path d="M529.17 154.22L531.67 158.82L526.67 158.82Z"/><path d="M525.52 152.55L528.02 157.15L523.02 157.15Z"/><path d="M522.09 151.31L524.59 155.91L519.59 155.91Z"/><path d="M518.87 150.09L521.37 154.69L516.37 154.69Z"/><path d="M515.85 148.83L518.35 153.43L513.35 153.43Z"/><path d="M513.02 147.65L515.52 152.25L510.52 152.25Z"/><path d="M510.37 146.69L512.87 151.29L507.87 151.29Z"/><path d="M507.88 145.97L510.38 150.57L505.38 150.57Z"/><path d="M505.54 145.43L508.04 150.03L503.04 150.03Z"/><path d="M503.35 145.03L505.85 149.63L500.85 149.63Z"/><path d="M501.29 144.76L503.79 149.36L498.79 149.36Z"/><path d="M499.37 144.6L501.87 149.2L496.87 149.2Z"/><path d="M497.56 144.75L500.06 149.35L495.06 149.35Z"/><path d="M495.86 145.13L498.36 149.73L493.36 149.73Z"/><path d="M494.27 145.53L496.77 150.13L491.77 150.13Z"/><path d="M492.78 145.98L495.28 150.58L490.28 150.58Z"/><path d="M491.38 146.48L493.88 151.08L488.88 151.08Z"/><path d="M490.07 146.99L492.57 151.59L487.57 151.59Z"/><path d="M488.83 147.54L491.33 152.14L486.33 152.14Z"/><path d="M487.68 148.18L490.18 152.78L485.18 152.78Z"/><path d="M486.59 149.04L489.09 153.64L484.09 153.64Z"/><path d="M485.58 150.13L488.08 154.73L483.08 154.73Z"/><path d="M484.62 151.31L487.12 155.91L482.12 155.91Z"/><path d="M483.73 152.67L486.23 157.27L481.23 157.27Z"/><path d="M482.89 154.22L485.39 158.82L480.39 158.82Z"/><path d="M482.1 156.23L484.6 160.83L479.6 160.83Z"/><path d="M481.37 158.36L483.87 162.96L478.87 162.96Z"/><path d="M480.67 160.24L483.17 164.84L478.17 164.84Z"/><path d="M480.02 161.96L482.52 166.56L477.52 166.56Z"/><path d="M479.42 163.57L481.92 168.17L476.92 168.17Z"/><path d="M478.84 165.12L481.34 169.72L476.34 169.72Z"/><path d="M478.31 166.61L480.81 171.21L475.81 171.21Z"/><path d="M477.81 168.08L480.31 172.68L475.31 172.68Z"/><path d="M477.33 169.55L479.83 174.15L474.83 174.15Z"/><path d="M476.89 170.98L479.39 175.58L474.39 175.58Z"/><path d="M476.48 172.33L478.98 176.93L473.98 176.93Z"/><path d="M476.09 173.55L478.59 178.15L473.59 178.15Z"/><path d="M475.72 174.64L478.22 179.24L473.22 179.24Z"/><path d="M475.38 175.59L477.88 180.19L472.88 180.19Z"/><path d="M475.06 176.46L477.56 181.06L472.56 181.06Z"/><path d="M474.76 177.26L477.26 181.86L472.26 181.86Z"/><path d="M474.48 177.99L476.98 182.59L471.98 182.59Z"/><path d="M474.21 178.66L476.71 183.26L471.71 183.26Z"/><path d="M473.96 179.29L476.46 183.89L471.46 183.89Z"/><path d="M473.73 179.87L476.23 184.47L471.23 184.47Z"/><path d="M473.51 180.42L476.01 185.02L471.01 185.02Z"/><path d="M473.3 180.93L475.8 185.53L470.8 185.53Z"/><path d="M473.11 181.42L475.61 186.02L470.61 186.02Z"/><path d="M472.93 181.87L475.43 186.47L470.43 186.47Z"/><path d="M472.76 182.3L475.26 186.9L470.26 186.9Z"/><path d="M472.6 182.7L475.1 187.3L470.1 187.3Z"/><path d="M472.45 183.07L474.95 187.67L469.95 187.67Z"/><path d="M472.31 183.42L474.81 188.02L469.81 188.02Z"/><path d="M472.18 183.75L474.68 188.35L469.68 188.35Z"/><path d="M472.06 184.06L474.56 188.66L469.56 188.66Z"/><path d="M471.95 184.34L474.45 188.94L469.45 188.94Z"/><path d="M471.84 184.61L474.34 189.21L469.34 189.21Z"/><path d="M471.74 184.86L474.24 189.46L469.24 189.46Z"/><path d="M471.64 185.1L474.14 189.7L469.14 189.7Z"/><path d="M471.55 185.32L474.05 189.92L469.05 189.92Z"/><path d="M471.47 185.52L473.97 190.12L468.97 190.12Z"/><path d="M471.39 185.72L473.89 190.32L468.89 190.32Z"/><path d="M471.31 185.9L473.81 190.5L468.81 190.5Z"/><path d="M471.25 186.07L473.75 190.67L468.75 190.67Z"/><path d="M471.18 186.22L473.68 190.82L468.68 190.82Z"/><path d="M471.12 186.37L473.62 190.97L468.62 190.97Z"/><path d="M471.06 186.51L473.56 191.11L468.56 191.11Z"/><path d="M471.01 186.64L473.51 191.24L468.51 191.24Z"/><path d="M470.96 186.76L473.46 191.36L468.46 191.36Z"/><path d="M470.91 186.88L473.41 191.48L468.41 191.48Z"/><path d="M470.87 186.99L473.37 191.59L468.37 191.59Z"/><path d="M470.83 187.09L473.33 191.69L468.33 191.69Z"/><path d="M470.79 187.18L473.29 191.78L468.29 191.78Z"/><path d="M470.75 187.27L473.25 191.87L468.25 191.87Z"/><path d="M470.72 187.35L473.22 191.95L468.22 191.95Z"/><path d="M470.69 187.43L473.19 192.03L468.19 192.03Z"/><path d="M470.66 187.5L473.16 192.1L468.16 192.1Z"/><path d="M470.63 187.57L473.13 192.17L468.13 192.17Z"/><path d="M470.6 187.64L473.1 192.24L468.1 192.24Z"/><path d="M470.58 187.7L473.08 192.3L468.08 192.3Z"/><path d="M470.55 187.75L473.05 192.35L468.05 192.35Z"/><path d="M470.53 187.8L473.03 192.4L468.03 192.4Z"/><path d="M470.51 187.85L473.01 192.45L468.01 192.45Z"/><path d="M470.49 187.9L472.99 192.5L467.99 192.5Z"/><path d="M470.47 187.94L472.97 192.54L467.97 192.54Z"/><path d="M470.46 187.98L472.96 192.58L467.96 192.58Z"/><path d="M470.44 188.02L472.94 192.62L467.94 192.62Z"/><path d="M470.43 188.06L472.93 192.66L467.93 192.66Z"/><path d="M470.41 188.09L472.91 192.69L467.91 192.69Z"/><path d="M470.4 188.12L472.9 192.72L467.9 192.72Z"/><path d="M470.39 188.15L472.89 192.75L467.89 192.75Z"/><path d="M470.37 188.18L472.87 192.78L467.87 192.78Z"/><path d="M470.36 188.21L472.86 192.81L467.86 192.81Z"/><path d="M470.35 188.23L472.85 192.83L467.85 192.83Z"/><path d="M470.34 188.25L472.84 192.85L467.84 192.85Z"/><path d="M470.33 188.28L472.83 192.88L467.83 192.88Z"/><path d="M470.33 188.3L472.83 192.9L467.83 192.9Z"/></g>
<g><circle cx="669.5" cy="141.5" r="1.95" fill="none" stroke="#9a9aa0" stroke-width="1.3"/><circle cx="656.8" cy="142" r="1.95" fill="none" stroke="#9a9aa0" stroke-width="1.3"/><circle cx="645.7" cy="142.8" r="1.95" fill="none" stroke="#9a9aa0" stroke-width="1.3"/><circle cx="634.7" cy="142.3" r="1.95" fill="none" stroke="#9a9aa0" stroke-width="1.3"/><circle cx="623.9" cy="142.1" r="1.95" fill="none" stroke="#9a9aa0" stroke-width="1.3"/><circle cx="614.4" cy="142.6" r="1.95" fill="none" stroke="#9a9aa0" stroke-width="1.3"/><circle cx="605.6" cy="142" r="1.95" fill="none" stroke="#9a9aa0" stroke-width="1.3"/><circle cx="597.2" cy="142.6" r="1.95" fill="none" stroke="#9a9aa0" stroke-width="1.3"/><circle cx="589.6" cy="142.3" r="1.95" fill="none" stroke="#9a9aa0" stroke-width="1.3"/><circle cx="582.1" cy="142.5" r="1.95" fill="none" stroke="#9a9aa0" stroke-width="1.3"/><circle cx="575.2" cy="143.09" r="1.95" fill="none" stroke="#9a9aa0" stroke-width="1.3"/><circle cx="568.61" cy="144.35" r="1.95" fill="none" stroke="#9a9aa0" stroke-width="1.3"/><circle cx="562.5" cy="145.36" r="1.95" fill="none" stroke="#9a9aa0" stroke-width="1.3"/><circle cx="556.78" cy="146.24" r="1.95" fill="none" stroke="#9a9aa0" stroke-width="1.3"/><circle cx="551.41" cy="147.6" r="1.95" fill="none" stroke="#9a9aa0" stroke-width="1.3"/><circle cx="546.38" cy="148.95" r="1.95" fill="none" stroke="#9a9aa0" stroke-width="1.3"/><circle cx="541.65" cy="150.45" r="1.95" fill="none" stroke="#9a9aa0" stroke-width="1.3"/><circle cx="537.22" cy="152.12" r="1.95" fill="none" stroke="#9a9aa0" stroke-width="1.3"/><circle cx="533.07" cy="153.96" r="1.95" fill="none" stroke="#9a9aa0" stroke-width="1.3"/><circle cx="529.17" cy="155.71" r="1.95" fill="none" stroke="#9a9aa0" stroke-width="1.3"/><circle cx="525.52" cy="157.7" r="1.95" fill="none" stroke="#9a9aa0" stroke-width="1.3"/><circle cx="522.09" cy="159.72" r="1.95" fill="none" stroke="#9a9aa0" stroke-width="1.3"/><circle cx="518.87" cy="161.32" r="1.95" fill="none" stroke="#9a9aa0" stroke-width="1.3"/><circle cx="515.85" cy="163.43" r="1.95" fill="none" stroke="#9a9aa0" stroke-width="1.3"/><circle cx="513.02" cy="165.22" r="1.95" fill="none" stroke="#9a9aa0" stroke-width="1.3"/><circle cx="510.37" cy="166.81" r="1.95" fill="none" stroke="#9a9aa0" stroke-width="1.3"/><circle cx="507.88" cy="168.46" r="1.95" fill="none" stroke="#9a9aa0" stroke-width="1.3"/><circle cx="505.54" cy="170.15" r="1.95" fill="none" stroke="#9a9aa0" stroke-width="1.3"/><circle cx="503.35" cy="171.65" r="1.95" fill="none" stroke="#9a9aa0" stroke-width="1.3"/><circle cx="501.29" cy="173.23" r="1.95" fill="none" stroke="#9a9aa0" stroke-width="1.3"/><circle cx="499.37" cy="174.72" r="1.95" fill="none" stroke="#9a9aa0" stroke-width="1.3"/><circle cx="497.56" cy="176" r="1.95" fill="none" stroke="#9a9aa0" stroke-width="1.3"/><circle cx="495.86" cy="177.1" r="1.95" fill="none" stroke="#9a9aa0" stroke-width="1.3"/><circle cx="494.27" cy="178.03" r="1.95" fill="none" stroke="#9a9aa0" stroke-width="1.3"/><circle cx="492.78" cy="178.92" r="1.95" fill="none" stroke="#9a9aa0" stroke-width="1.3"/><circle cx="491.38" cy="179.79" r="1.95" fill="none" stroke="#9a9aa0" stroke-width="1.3"/><circle cx="490.07" cy="180.66" r="1.95" fill="none" stroke="#9a9aa0" stroke-width="1.3"/><circle cx="488.83" cy="181.49" r="1.95" fill="none" stroke="#9a9aa0" stroke-width="1.3"/><circle cx="487.68" cy="182.18" r="1.95" fill="none" stroke="#9a9aa0" stroke-width="1.3"/><circle cx="486.59" cy="182.76" r="1.95" fill="none" stroke="#9a9aa0" stroke-width="1.3"/><circle cx="485.58" cy="183.26" r="1.95" fill="none" stroke="#9a9aa0" stroke-width="1.3"/><circle cx="484.62" cy="183.71" r="1.95" fill="none" stroke="#9a9aa0" stroke-width="1.3"/><circle cx="483.73" cy="184.12" r="1.95" fill="none" stroke="#9a9aa0" stroke-width="1.3"/><circle cx="482.89" cy="184.48" r="1.95" fill="none" stroke="#9a9aa0" stroke-width="1.3"/><circle cx="482.1" cy="184.79" r="1.95" fill="none" stroke="#9a9aa0" stroke-width="1.3"/><circle cx="481.37" cy="185.09" r="1.95" fill="none" stroke="#9a9aa0" stroke-width="1.3"/><circle cx="480.67" cy="185.39" r="1.95" fill="none" stroke="#9a9aa0" stroke-width="1.3"/><circle cx="480.02" cy="185.69" r="1.95" fill="none" stroke="#9a9aa0" stroke-width="1.3"/><circle cx="479.42" cy="186" r="1.95" fill="none" stroke="#9a9aa0" stroke-width="1.3"/><circle cx="478.84" cy="186.32" r="1.95" fill="none" stroke="#9a9aa0" stroke-width="1.3"/><circle cx="478.31" cy="186.63" r="1.95" fill="none" stroke="#9a9aa0" stroke-width="1.3"/><circle cx="477.81" cy="186.94" r="1.95" fill="none" stroke="#9a9aa0" stroke-width="1.3"/><circle cx="477.33" cy="187.23" r="1.95" fill="none" stroke="#9a9aa0" stroke-width="1.3"/><circle cx="476.89" cy="187.5" r="1.95" fill="none" stroke="#9a9aa0" stroke-width="1.3"/><circle cx="476.48" cy="187.76" r="1.95" fill="none" stroke="#9a9aa0" stroke-width="1.3"/><circle cx="476.09" cy="187.99" r="1.95" fill="none" stroke="#9a9aa0" stroke-width="1.3"/><circle cx="475.72" cy="188.2" r="1.95" fill="none" stroke="#9a9aa0" stroke-width="1.3"/><circle cx="475.38" cy="188.4" r="1.95" fill="none" stroke="#9a9aa0" stroke-width="1.3"/><circle cx="475.06" cy="188.57" r="1.95" fill="none" stroke="#9a9aa0" stroke-width="1.3"/><circle cx="474.76" cy="188.73" r="1.95" fill="none" stroke="#9a9aa0" stroke-width="1.3"/><circle cx="474.48" cy="188.87" r="1.95" fill="none" stroke="#9a9aa0" stroke-width="1.3"/><circle cx="474.21" cy="189.01" r="1.95" fill="none" stroke="#9a9aa0" stroke-width="1.3"/><circle cx="473.96" cy="189.14" r="1.95" fill="none" stroke="#9a9aa0" stroke-width="1.3"/><circle cx="473.73" cy="189.25" r="1.95" fill="none" stroke="#9a9aa0" stroke-width="1.3"/><circle cx="473.51" cy="189.36" r="1.95" fill="none" stroke="#9a9aa0" stroke-width="1.3"/><circle cx="473.3" cy="189.46" r="1.95" fill="none" stroke="#9a9aa0" stroke-width="1.3"/><circle cx="473.11" cy="189.56" r="1.95" fill="none" stroke="#9a9aa0" stroke-width="1.3"/><circle cx="472.93" cy="189.65" r="1.95" fill="none" stroke="#9a9aa0" stroke-width="1.3"/><circle cx="472.76" cy="189.73" r="1.95" fill="none" stroke="#9a9aa0" stroke-width="1.3"/><circle cx="472.6" cy="189.81" r="1.95" fill="none" stroke="#9a9aa0" stroke-width="1.3"/><circle cx="472.45" cy="189.88" r="1.95" fill="none" stroke="#9a9aa0" stroke-width="1.3"/><circle cx="472.31" cy="189.94" r="1.95" fill="none" stroke="#9a9aa0" stroke-width="1.3"/><circle cx="472.18" cy="190.01" r="1.95" fill="none" stroke="#9a9aa0" stroke-width="1.3"/><circle cx="472.06" cy="190.06" r="1.95" fill="none" stroke="#9a9aa0" stroke-width="1.3"/><circle cx="471.95" cy="190.12" r="1.95" fill="none" stroke="#9a9aa0" stroke-width="1.3"/><circle cx="471.84" cy="190.17" r="1.95" fill="none" stroke="#9a9aa0" stroke-width="1.3"/><circle cx="471.74" cy="190.21" r="1.95" fill="none" stroke="#9a9aa0" stroke-width="1.3"/><circle cx="471.64" cy="190.26" r="1.95" fill="none" stroke="#9a9aa0" stroke-width="1.3"/><circle cx="471.55" cy="190.3" r="1.95" fill="none" stroke="#9a9aa0" stroke-width="1.3"/><circle cx="471.47" cy="190.34" r="1.95" fill="none" stroke="#9a9aa0" stroke-width="1.3"/><circle cx="471.39" cy="190.37" r="1.95" fill="none" stroke="#9a9aa0" stroke-width="1.3"/><circle cx="471.31" cy="190.41" r="1.95" fill="none" stroke="#9a9aa0" stroke-width="1.3"/><circle cx="471.25" cy="190.44" r="1.95" fill="none" stroke="#9a9aa0" stroke-width="1.3"/><circle cx="471.18" cy="190.47" r="1.95" fill="none" stroke="#9a9aa0" stroke-width="1.3"/><circle cx="471.12" cy="190.5" r="1.95" fill="none" stroke="#9a9aa0" stroke-width="1.3"/><circle cx="471.06" cy="190.52" r="1.95" fill="none" stroke="#9a9aa0" stroke-width="1.3"/><circle cx="471.01" cy="190.54" r="1.95" fill="none" stroke="#9a9aa0" stroke-width="1.3"/><circle cx="470.96" cy="190.57" r="1.95" fill="none" stroke="#9a9aa0" stroke-width="1.3"/><circle cx="470.91" cy="190.59" r="1.95" fill="none" stroke="#9a9aa0" stroke-width="1.3"/><circle cx="470.87" cy="190.61" r="1.95" fill="none" stroke="#9a9aa0" stroke-width="1.3"/><circle cx="470.83" cy="190.63" r="1.95" fill="none" stroke="#9a9aa0" stroke-width="1.3"/><circle cx="470.79" cy="190.64" r="1.95" fill="none" stroke="#9a9aa0" stroke-width="1.3"/><circle cx="470.75" cy="190.66" r="1.95" fill="none" stroke="#9a9aa0" stroke-width="1.3"/><circle cx="470.72" cy="190.67" r="1.95" fill="none" stroke="#9a9aa0" stroke-width="1.3"/><circle cx="470.69" cy="190.69" r="1.95" fill="none" stroke="#9a9aa0" stroke-width="1.3"/><circle cx="470.66" cy="190.7" r="1.95" fill="none" stroke="#9a9aa0" stroke-width="1.3"/><circle cx="470.63" cy="190.71" r="1.95" fill="none" stroke="#9a9aa0" stroke-width="1.3"/><circle cx="470.6" cy="190.73" r="1.95" fill="none" stroke="#9a9aa0" stroke-width="1.3"/><circle cx="470.58" cy="190.74" r="1.95" fill="none" stroke="#9a9aa0" stroke-width="1.3"/><circle cx="470.55" cy="190.75" r="1.95" fill="none" stroke="#9a9aa0" stroke-width="1.3"/><circle cx="470.53" cy="190.76" r="1.95" fill="none" stroke="#9a9aa0" stroke-width="1.3"/><circle cx="470.51" cy="190.77" r="1.95" fill="none" stroke="#9a9aa0" stroke-width="1.3"/><circle cx="470.49" cy="190.77" r="1.95" fill="none" stroke="#9a9aa0" stroke-width="1.3"/><circle cx="470.47" cy="190.78" r="1.95" fill="none" stroke="#9a9aa0" stroke-width="1.3"/><circle cx="470.46" cy="190.79" r="1.95" fill="none" stroke="#9a9aa0" stroke-width="1.3"/><circle cx="470.44" cy="190.8" r="1.95" fill="none" stroke="#9a9aa0" stroke-width="1.3"/><circle cx="470.43" cy="190.8" r="1.95" fill="none" stroke="#9a9aa0" stroke-width="1.3"/><circle cx="470.41" cy="190.81" r="1.95" fill="none" stroke="#9a9aa0" stroke-width="1.3"/><circle cx="470.4" cy="190.81" r="1.95" fill="none" stroke="#9a9aa0" stroke-width="1.3"/><circle cx="470.39" cy="190.82" r="1.95" fill="none" stroke="#9a9aa0" stroke-width="1.3"/><circle cx="470.37" cy="190.82" r="1.95" fill="none" stroke="#9a9aa0" stroke-width="1.3"/><circle cx="470.36" cy="190.83" r="1.95" fill="none" stroke="#9a9aa0" stroke-width="1.3"/><circle cx="470.35" cy="190.83" r="1.95" fill="none" stroke="#9a9aa0" stroke-width="1.3"/><circle cx="470.34" cy="190.84" r="1.95" fill="none" stroke="#9a9aa0" stroke-width="1.3"/><circle cx="470.33" cy="190.84" r="1.95" fill="none" stroke="#9a9aa0" stroke-width="1.3"/><circle cx="470.33" cy="190.85" r="1.95" fill="none" stroke="#9a9aa0" stroke-width="1.3"/></g>
<g fill="#0000ff"><path d="M667 178.9L672 178.9L669.5 183.5Z"/><path d="M654.3 178.6L659.3 178.6L656.8 183.2Z"/><path d="M643.2 178.6L648.2 178.6L645.7 183.2Z"/><path d="M632.2 178.4L637.2 178.4L634.7 183Z"/><path d="M621.4 178.1L626.4 178.1L623.9 182.7Z"/><path d="M611.9 178.1L616.9 178.1L614.4 182.7Z"/><path d="M603.1 177.3L608.1 177.3L605.6 181.9Z"/><path d="M594.7 177.3L599.7 177.3L597.2 181.9Z"/><path d="M587.1 176.4L592.1 176.4L589.6 181Z"/><path d="M579.6 175.7L584.6 175.7L582.1 180.3Z"/><path d="M572.7 175.31L577.7 175.31L575.2 179.91Z"/><path d="M566.11 174.5L571.11 174.5L568.61 179.1Z"/><path d="M560 173.66L565 173.66L562.5 178.26Z"/><path d="M554.28 173.1L559.28 173.1L556.78 177.7Z"/><path d="M548.91 172.56L553.91 172.56L551.41 177.16Z"/><path d="M543.88 171.94L548.88 171.94L546.38 176.54Z"/><path d="M539.15 171.38L544.15 171.38L541.65 175.98Z"/><path d="M534.72 170.98L539.72 170.98L537.22 175.58Z"/><path d="M530.57 170.73L535.57 170.73L533.07 175.33Z"/><path d="M526.67 170.52L531.67 170.52L529.17 175.12Z"/><path d="M523.02 170.32L528.02 170.32L525.52 174.92Z"/><path d="M519.59 170.19L524.59 170.19L522.09 174.79Z"/><path d="M516.37 170.1L521.37 170.1L518.87 174.7Z"/><path d="M513.35 170.03L518.35 170.03L515.85 174.63Z"/><path d="M510.52 169.96L515.52 169.96L513.02 174.56Z"/><path d="M507.87 169.9L512.87 169.9L510.37 174.5Z"/><path d="M505.38 169.9L510.38 169.9L507.88 174.5Z"/><path d="M503.04 169.9L508.04 169.9L505.54 174.5Z"/><path d="M500.85 169.9L505.85 169.9L503.35 174.5Z"/><path d="M498.79 169.91L503.79 169.91L501.29 174.51Z"/><path d="M496.87 170.06L501.87 170.06L499.37 174.66Z"/><path d="M495.06 170.27L500.06 170.27L497.56 174.87Z"/><path d="M493.36 170.58L498.36 170.58L495.86 175.18Z"/><path d="M491.77 170.94L496.77 170.94L494.27 175.54Z"/><path d="M490.28 171.27L495.28 171.27L492.78 175.87Z"/><path d="M488.88 171.61L493.88 171.61L491.38 176.21Z"/><path d="M487.57 171.98L492.57 171.98L490.07 176.58Z"/><path d="M486.33 172.41L491.33 172.41L488.83 177.01Z"/><path d="M485.18 172.88L490.18 172.88L487.68 177.48Z"/><path d="M484.09 173.34L489.09 173.34L486.59 177.94Z"/><path d="M483.08 173.78L488.08 173.78L485.58 178.38Z"/><path d="M482.12 174.19L487.12 174.19L484.62 178.79Z"/><path d="M481.23 174.6L486.23 174.6L483.73 179.2Z"/><path d="M480.39 175L485.39 175L482.89 179.6Z"/><path d="M479.6 175.4L484.6 175.4L482.1 180Z"/><path d="M478.87 175.8L483.87 175.8L481.37 180.4Z"/><path d="M478.17 176.19L483.17 176.19L480.67 180.79Z"/><path d="M477.52 176.57L482.52 176.57L480.02 181.17Z"/><path d="M476.92 176.96L481.92 176.96L479.42 181.56Z"/><path d="M476.34 177.35L481.34 177.35L478.84 181.95Z"/><path d="M475.81 177.74L480.81 177.74L478.31 182.34Z"/><path d="M475.31 178.13L480.31 178.13L477.81 182.73Z"/><path d="M474.83 178.52L479.83 178.52L477.33 183.12Z"/><path d="M474.39 178.9L479.39 178.9L476.89 183.5Z"/><path d="M473.98 179.29L478.98 179.29L476.48 183.89Z"/><path d="M473.59 179.67L478.59 179.67L476.09 184.27Z"/><path d="M473.22 180.06L478.22 180.06L475.72 184.66Z"/><path d="M472.88 180.44L477.88 180.44L475.38 185.04Z"/><path d="M472.56 180.83L477.56 180.83L475.06 185.43Z"/><path d="M472.26 181.22L477.26 181.22L474.76 185.82Z"/><path d="M471.98 181.66L476.98 181.66L474.48 186.26Z"/><path d="M471.71 182.11L476.71 182.11L474.21 186.71Z"/><path d="M471.46 182.56L476.46 182.56L473.96 187.16Z"/><path d="M471.23 183.01L476.23 183.01L473.73 187.61Z"/><path d="M471.01 183.43L476.01 183.43L473.51 188.03Z"/><path d="M470.8 183.84L475.8 183.84L473.3 188.44Z"/><path d="M470.61 184.22L475.61 184.22L473.11 188.82Z"/><path d="M470.43 184.57L475.43 184.57L472.93 189.17Z"/><path d="M470.26 184.89L475.26 184.89L472.76 189.49Z"/><path d="M470.1 185.19L475.1 185.19L472.6 189.79Z"/><path d="M469.95 185.45L474.95 185.45L472.45 190.05Z"/><path d="M469.81 185.7L474.81 185.7L472.31 190.3Z"/><path d="M469.68 185.91L474.68 185.91L472.18 190.51Z"/><path d="M469.56 186.11L474.56 186.11L472.06 190.71Z"/><path d="M469.45 186.28L474.45 186.28L471.95 190.88Z"/><path d="M469.34 186.44L474.34 186.44L471.84 191.04Z"/><path d="M469.24 186.59L474.24 186.59L471.74 191.19Z"/><path d="M469.14 186.73L474.14 186.73L471.64 191.33Z"/><path d="M469.05 186.86L474.05 186.86L471.55 191.46Z"/><path d="M468.97 186.97L473.97 186.97L471.47 191.57Z"/><path d="M468.89 187.08L473.89 187.08L471.39 191.68Z"/><path d="M468.81 187.18L473.81 187.18L471.31 191.78Z"/><path d="M468.75 187.28L473.75 187.28L471.25 191.88Z"/><path d="M468.68 187.37L473.68 187.37L471.18 191.97Z"/><path d="M468.62 187.45L473.62 187.45L471.12 192.05Z"/><path d="M468.56 187.52L473.56 187.52L471.06 192.12Z"/><path d="M468.51 187.59L473.51 187.59L471.01 192.19Z"/><path d="M468.46 187.66L473.46 187.66L470.96 192.26Z"/><path d="M468.41 187.72L473.41 187.72L470.91 192.32Z"/><path d="M468.37 187.78L473.37 187.78L470.87 192.38Z"/><path d="M468.33 187.83L473.33 187.83L470.83 192.43Z"/><path d="M468.29 187.88L473.29 187.88L470.79 192.48Z"/><path d="M468.25 187.93L473.25 187.93L470.75 192.53Z"/><path d="M468.22 187.97L473.22 187.97L470.72 192.57Z"/><path d="M468.19 188.01L473.19 188.01L470.69 192.61Z"/><path d="M468.16 188.05L473.16 188.05L470.66 192.65Z"/><path d="M468.13 188.08L473.13 188.08L470.63 192.68Z"/><path d="M468.1 188.12L473.1 188.12L470.6 192.72Z"/><path d="M468.08 188.15L473.08 188.15L470.58 192.75Z"/><path d="M468.05 188.18L473.05 188.18L470.55 192.78Z"/><path d="M468.03 188.2L473.03 188.2L470.53 192.8Z"/><path d="M468.01 188.23L473.01 188.23L470.51 192.83Z"/><path d="M467.99 188.25L472.99 188.25L470.49 192.85Z"/><path d="M467.97 188.27L472.97 188.27L470.47 192.87Z"/><path d="M467.96 188.29L472.96 188.29L470.46 192.89Z"/><path d="M467.94 188.31L472.94 188.31L470.44 192.91Z"/><path d="M467.93 188.33L472.93 188.33L470.43 192.93Z"/><path d="M467.91 188.35L472.91 188.35L470.41 192.95Z"/><path d="M467.9 188.36L472.9 188.36L470.4 192.96Z"/><path d="M467.89 188.38L472.89 188.38L470.39 192.98Z"/><path d="M467.87 188.39L472.87 188.39L470.37 192.99Z"/><path d="M467.86 188.41L472.86 188.41L470.36 193.01Z"/><path d="M467.85 188.42L472.85 188.42L470.35 193.02Z"/><path d="M467.84 188.43L472.84 188.43L470.34 193.03Z"/><path d="M467.83 188.44L472.83 188.44L470.33 193.04Z"/><path d="M467.83 188.45L472.83 188.45L470.33 193.05Z"/></g>
<g fill="#00b400"><rect x="667.35" y="169.15" width="4.3" height="4.3"/><rect x="654.65" y="168.15" width="4.3" height="4.3"/><rect x="643.55" y="166.92" width="4.3" height="4.3"/><rect x="632.55" y="165.33" width="4.3" height="4.3"/><rect x="621.75" y="163.18" width="4.3" height="4.3"/><rect x="612.25" y="161.97" width="4.3" height="4.3"/><rect x="603.45" y="158.95" width="4.3" height="4.3"/><rect x="595.05" y="157.45" width="4.3" height="4.3"/><rect x="587.45" y="154.25" width="4.3" height="4.3"/><rect x="579.95" y="151.75" width="4.3" height="4.3"/><rect x="573.05" y="148.99" width="4.3" height="4.3"/><rect x="566.46" y="146.43" width="4.3" height="4.3"/><rect x="560.35" y="143.9" width="4.3" height="4.3"/><rect x="554.63" y="141.75" width="4.3" height="4.3"/><rect x="549.26" y="138.66" width="4.3" height="4.3"/><rect x="544.23" y="136.53" width="4.3" height="4.3"/><rect x="539.5" y="134.53" width="4.3" height="4.3"/><rect x="535.07" y="132.44" width="4.3" height="4.3"/><rect x="530.92" y="130.64" width="4.3" height="4.3"/><rect x="527.02" y="129.1" width="4.3" height="4.3"/><rect x="523.37" y="127.66" width="4.3" height="4.3"/><rect x="519.94" y="126.25" width="4.3" height="4.3"/><rect x="516.72" y="124.97" width="4.3" height="4.3"/><rect x="513.7" y="124.07" width="4.3" height="4.3"/><rect x="510.87" y="123.56" width="4.3" height="4.3"/><rect x="508.22" y="123.26" width="4.3" height="4.3"/><rect x="505.73" y="123.06" width="4.3" height="4.3"/><rect x="503.39" y="123.07" width="4.3" height="4.3"/><rect x="501.2" y="123.14" width="4.3" height="4.3"/><rect x="499.14" y="123.38" width="4.3" height="4.3"/><rect x="497.22" y="123.87" width="4.3" height="4.3"/><rect x="495.41" y="124.64" width="4.3" height="4.3"/><rect x="493.71" y="125.69" width="4.3" height="4.3"/><rect x="492.12" y="126.65" width="4.3" height="4.3"/><rect x="490.63" y="127.47" width="4.3" height="4.3"/><rect x="489.23" y="128.34" width="4.3" height="4.3"/><rect x="487.92" y="129.34" width="4.3" height="4.3"/><rect x="486.68" y="130.51" width="4.3" height="4.3"/><rect x="485.53" y="131.83" width="4.3" height="4.3"/><rect x="484.44" y="133.39" width="4.3" height="4.3"/><rect x="483.43" y="135.22" width="4.3" height="4.3"/><rect x="482.47" y="137.12" width="4.3" height="4.3"/><rect x="481.58" y="139.12" width="4.3" height="4.3"/><rect x="480.74" y="141.24" width="4.3" height="4.3"/><rect x="479.95" y="143.52" width="4.3" height="4.3"/><rect x="479.22" y="145.97" width="4.3" height="4.3"/><rect x="478.52" y="148.89" width="4.3" height="4.3"/><rect x="477.87" y="151.3" width="4.3" height="4.3"/><rect x="477.27" y="152.91" width="4.3" height="4.3"/><rect x="476.69" y="154.53" width="4.3" height="4.3"/><rect x="476.16" y="156.43" width="4.3" height="4.3"/><rect x="475.66" y="158.42" width="4.3" height="4.3"/><rect x="475.18" y="160.4" width="4.3" height="4.3"/><rect x="474.74" y="162.38" width="4.3" height="4.3"/><rect x="474.33" y="164.37" width="4.3" height="4.3"/><rect x="473.94" y="166.31" width="4.3" height="4.3"/><rect x="473.57" y="168.14" width="4.3" height="4.3"/><rect x="473.23" y="169.91" width="4.3" height="4.3"/><rect x="472.91" y="171.65" width="4.3" height="4.3"/><rect x="472.61" y="173.27" width="4.3" height="4.3"/><rect x="472.33" y="174.73" width="4.3" height="4.3"/><rect x="472.06" y="176" width="4.3" height="4.3"/><rect x="471.81" y="177.12" width="4.3" height="4.3"/><rect x="471.58" y="178.15" width="4.3" height="4.3"/><rect x="471.36" y="179.08" width="4.3" height="4.3"/><rect x="471.15" y="179.93" width="4.3" height="4.3"/><rect x="470.96" y="180.69" width="4.3" height="4.3"/><rect x="470.78" y="181.37" width="4.3" height="4.3"/><rect x="470.61" y="181.98" width="4.3" height="4.3"/><rect x="470.45" y="182.52" width="4.3" height="4.3"/><rect x="470.3" y="182.99" width="4.3" height="4.3"/><rect x="470.16" y="183.43" width="4.3" height="4.3"/><rect x="470.03" y="183.83" width="4.3" height="4.3"/><rect x="469.91" y="184.21" width="4.3" height="4.3"/><rect x="469.8" y="184.55" width="4.3" height="4.3"/><rect x="469.69" y="184.86" width="4.3" height="4.3"/><rect x="469.59" y="185.15" width="4.3" height="4.3"/><rect x="469.49" y="185.42" width="4.3" height="4.3"/><rect x="469.4" y="185.67" width="4.3" height="4.3"/><rect x="469.32" y="185.9" width="4.3" height="4.3"/><rect x="469.24" y="186.11" width="4.3" height="4.3"/><rect x="469.16" y="186.3" width="4.3" height="4.3"/><rect x="469.1" y="186.48" width="4.3" height="4.3"/><rect x="469.03" y="186.64" width="4.3" height="4.3"/><rect x="468.97" y="186.79" width="4.3" height="4.3"/><rect x="468.91" y="186.93" width="4.3" height="4.3"/><rect x="468.86" y="187.06" width="4.3" height="4.3"/><rect x="468.81" y="187.18" width="4.3" height="4.3"/><rect x="468.76" y="187.29" width="4.3" height="4.3"/><rect x="468.72" y="187.4" width="4.3" height="4.3"/><rect x="468.68" y="187.49" width="4.3" height="4.3"/><rect x="468.64" y="187.58" width="4.3" height="4.3"/><rect x="468.6" y="187.66" width="4.3" height="4.3"/><rect x="468.57" y="187.73" width="4.3" height="4.3"/><rect x="468.54" y="187.8" width="4.3" height="4.3"/><rect x="468.51" y="187.87" width="4.3" height="4.3"/><rect x="468.48" y="187.93" width="4.3" height="4.3"/><rect x="468.45" y="187.98" width="4.3" height="4.3"/><rect x="468.43" y="188.03" width="4.3" height="4.3"/><rect x="468.4" y="188.08" width="4.3" height="4.3"/><rect x="468.38" y="188.13" width="4.3" height="4.3"/><rect x="468.36" y="188.17" width="4.3" height="4.3"/><rect x="468.34" y="188.21" width="4.3" height="4.3"/><rect x="468.32" y="188.24" width="4.3" height="4.3"/><rect x="468.31" y="188.28" width="4.3" height="4.3"/><rect x="468.29" y="188.31" width="4.3" height="4.3"/><rect x="468.28" y="188.34" width="4.3" height="4.3"/><rect x="468.26" y="188.36" width="4.3" height="4.3"/><rect x="468.25" y="188.39" width="4.3" height="4.3"/><rect x="468.24" y="188.41" width="4.3" height="4.3"/><rect x="468.22" y="188.43" width="4.3" height="4.3"/><rect x="468.21" y="188.45" width="4.3" height="4.3"/><rect x="468.2" y="188.47" width="4.3" height="4.3"/><rect x="468.19" y="188.49" width="4.3" height="4.3"/><rect x="468.18" y="188.51" width="4.3" height="4.3"/><rect x="468.18" y="188.52" width="4.3" height="4.3"/></g>
<g fill="#000"><circle cx="669.5" cy="112.5" r="2.3"/><circle cx="656.8" cy="111.3" r="2.3"/><circle cx="645.7" cy="110.99" r="2.3"/><circle cx="634.7" cy="108.58" r="2.3"/><circle cx="623.9" cy="105.82" r="2.3"/><circle cx="614.4" cy="105.11" r="2.3"/><circle cx="605.6" cy="100.9" r="2.3"/><circle cx="597.2" cy="100" r="2.3"/><circle cx="589.6" cy="95.7" r="2.3"/><circle cx="582.1" cy="93" r="2.3"/><circle cx="575.2" cy="90.56" r="2.3"/><circle cx="568.61" cy="88.02" r="2.3"/><circle cx="562.5" cy="85.73" r="2.3"/><circle cx="556.78" cy="83.81" r="2.3"/><circle cx="551.41" cy="82.18" r="2.3"/><circle cx="546.38" cy="80.76" r="2.3"/><circle cx="541.65" cy="79.65" r="2.3"/><circle cx="537.22" cy="78.74" r="2.3"/><circle cx="533.07" cy="78.29" r="2.3"/><circle cx="529.17" cy="78.21" r="2.3"/><circle cx="525.52" cy="78.24" r="2.3"/><circle cx="522.09" cy="78.63" r="2.3"/><circle cx="518.87" cy="79.14" r="2.3"/><circle cx="515.85" cy="79.8" r="2.3"/><circle cx="513.02" cy="80.6" r="2.3"/><circle cx="510.37" cy="81.54" r="2.3"/><circle cx="507.88" cy="82.7" r="2.3"/><circle cx="505.54" cy="84.02" r="2.3"/><circle cx="503.35" cy="85.45" r="2.3"/><circle cx="501.29" cy="87.14" r="2.3"/><circle cx="499.37" cy="89.04" r="2.3"/><circle cx="497.56" cy="91.03" r="2.3"/><circle cx="495.86" cy="93.17" r="2.3"/><circle cx="494.27" cy="95.49" r="2.3"/><circle cx="492.78" cy="97.91" r="2.3"/><circle cx="491.38" cy="100.36" r="2.3"/><circle cx="490.07" cy="102.9" r="2.3"/><circle cx="488.83" cy="105.54" r="2.3"/><circle cx="487.68" cy="108.25" r="2.3"/><circle cx="486.59" cy="111.01" r="2.3"/><circle cx="485.58" cy="113.97" r="2.3"/><circle cx="484.62" cy="117.01" r="2.3"/><circle cx="483.73" cy="120.02" r="2.3"/><circle cx="482.89" cy="122.93" r="2.3"/><circle cx="482.1" cy="125.84" r="2.3"/><circle cx="481.37" cy="128.67" r="2.3"/><circle cx="480.67" cy="131.38" r="2.3"/><circle cx="480.02" cy="133.97" r="2.3"/><circle cx="479.42" cy="136.5" r="2.3"/><circle cx="478.84" cy="138.99" r="2.3"/><circle cx="478.31" cy="141.46" r="2.3"/><circle cx="477.81" cy="143.88" r="2.3"/><circle cx="477.33" cy="146.23" r="2.3"/><circle cx="476.89" cy="148.46" r="2.3"/><circle cx="476.48" cy="150.61" r="2.3"/><circle cx="476.09" cy="152.73" r="2.3"/><circle cx="475.72" cy="154.86" r="2.3"/><circle cx="475.38" cy="157.12" r="2.3"/><circle cx="475.06" cy="159.44" r="2.3"/><circle cx="474.76" cy="161.61" r="2.3"/><circle cx="474.48" cy="163.53" r="2.3"/><circle cx="474.21" cy="165.25" r="2.3"/><circle cx="473.96" cy="166.83" r="2.3"/><circle cx="473.73" cy="168.3" r="2.3"/><circle cx="473.51" cy="169.7" r="2.3"/><circle cx="473.3" cy="171.02" r="2.3"/><circle cx="473.11" cy="172.25" r="2.3"/><circle cx="472.93" cy="173.41" r="2.3"/><circle cx="472.76" cy="174.5" r="2.3"/><circle cx="472.6" cy="175.53" r="2.3"/><circle cx="472.45" cy="176.51" r="2.3"/><circle cx="472.31" cy="177.43" r="2.3"/><circle cx="472.18" cy="178.31" r="2.3"/><circle cx="472.06" cy="179.16" r="2.3"/><circle cx="471.95" cy="179.98" r="2.3"/><circle cx="471.84" cy="180.77" r="2.3"/><circle cx="471.74" cy="181.51" r="2.3"/><circle cx="471.64" cy="182.2" r="2.3"/><circle cx="471.55" cy="182.85" r="2.3"/><circle cx="471.47" cy="183.44" r="2.3"/><circle cx="471.39" cy="184" r="2.3"/><circle cx="471.31" cy="184.5" r="2.3"/><circle cx="471.25" cy="184.97" r="2.3"/><circle cx="471.18" cy="185.39" r="2.3"/><circle cx="471.12" cy="185.78" r="2.3"/><circle cx="471.06" cy="186.13" r="2.3"/><circle cx="471.01" cy="186.45" r="2.3"/><circle cx="470.96" cy="186.76" r="2.3"/><circle cx="470.91" cy="187.04" r="2.3"/><circle cx="470.87" cy="187.3" r="2.3"/><circle cx="470.83" cy="187.54" r="2.3"/><circle cx="470.79" cy="187.76" r="2.3"/><circle cx="470.75" cy="187.97" r="2.3"/><circle cx="470.72" cy="188.17" r="2.3"/><circle cx="470.69" cy="188.35" r="2.3"/><circle cx="470.66" cy="188.51" r="2.3"/><circle cx="470.63" cy="188.67" r="2.3"/><circle cx="470.6" cy="188.82" r="2.3"/><circle cx="470.58" cy="188.95" r="2.3"/><circle cx="470.55" cy="189.08" r="2.3"/><circle cx="470.53" cy="189.2" r="2.3"/><circle cx="470.51" cy="189.31" r="2.3"/><circle cx="470.49" cy="189.41" r="2.3"/><circle cx="470.47" cy="189.51" r="2.3"/><circle cx="470.46" cy="189.6" r="2.3"/><circle cx="470.44" cy="189.68" r="2.3"/><circle cx="470.43" cy="189.76" r="2.3"/><circle cx="470.41" cy="189.83" r="2.3"/><circle cx="470.4" cy="189.9" r="2.3"/><circle cx="470.39" cy="189.96" r="2.3"/><circle cx="470.37" cy="190.02" r="2.3"/><circle cx="470.36" cy="190.08" r="2.3"/><circle cx="470.35" cy="190.13" r="2.3"/><circle cx="470.34" cy="190.18" r="2.3"/><circle cx="470.33" cy="190.22" r="2.3"/><circle cx="470.33" cy="190.27" r="2.3"/></g>
<g fill="#ff0000"><path d="M242.8 436.9L245.3 441.5L240.3 441.5Z"/><path d="M231.3 435.2L233.8 439.8L228.8 439.8Z"/><path d="M221.2 434L223.7 438.6L218.7 438.6Z"/><path d="M212 431.5L214.5 436.1L209.5 436.1Z"/><path d="M202.4 429.2L204.9 433.8L199.9 433.8Z"/><path d="M194.2 427.4L196.7 432L191.7 432Z"/><path d="M186.6 424.7L189.1 429.3L184.1 429.3Z"/><path d="M180.1 423.1L182.6 427.7L177.6 427.7Z"/><path d="M173.4 420.9L175.9 425.5L170.9 425.5Z"/><path d="M166.9 419.1L169.4 423.7L164.4 423.7Z"/><path d="M160.9 417.2L163.4 421.8L158.4 421.8Z"/><path d="M155.4 414.98L157.9 419.58L152.9 419.58Z"/><path d="M150.2 412.9L152.7 417.5L147.7 417.5Z"/><path d="M144.77 410.96L147.27 415.56L142.27 415.56Z"/><path d="M140.08 409.39L142.58 413.99L137.58 413.99Z"/><path d="M135.68 407.89L138.18 412.49L133.18 412.49Z"/><path d="M131.55 406.35L134.05 410.95L129.05 410.95Z"/><path d="M127.68 405.11L130.18 409.71L125.18 409.71Z"/><path d="M124.05 404.14L126.55 408.74L121.55 408.74Z"/><path d="M120.64 403.44L123.14 408.04L118.14 408.04Z"/><path d="M117.44 402.68L119.94 407.28L114.94 407.28Z"/><path d="M114.45 402.33L116.95 406.93L111.95 406.93Z"/><path d="M111.64 402.02L114.14 406.62L109.14 406.62Z"/><path d="M109 402.04L111.5 406.64L106.5 406.64Z"/><path d="M106.52 402.21L109.02 406.81L104.02 406.81Z"/><path d="M104.2 402.56L106.7 407.16L101.7 407.16Z"/><path d="M102.03 403.1L104.53 407.7L99.53 407.7Z"/><path d="M99.99 403.81L102.49 408.41L97.49 408.41Z"/><path d="M98.07 404.61L100.57 409.21L95.57 409.21Z"/><path d="M96.28 405.54L98.78 410.14L93.78 410.14Z"/><path d="M94.59 406.51L97.09 411.11L92.09 411.11Z"/><path d="M93.01 407.44L95.51 412.04L90.51 412.04Z"/><path d="M91.53 408.48L94.03 413.08L89.03 413.08Z"/><path d="M90.14 409.82L92.64 414.42L87.64 414.42Z"/><path d="M88.83 411.82L91.33 416.42L86.33 416.42Z"/><path d="M87.61 414.01L90.11 418.61L85.11 418.61Z"/><path d="M86.46 416.08L88.96 420.68L83.96 420.68Z"/><path d="M85.39 418.17L87.89 422.77L82.89 422.77Z"/><path d="M84.38 420.28L86.88 424.88L81.88 424.88Z"/><path d="M83.43 422.4L85.93 427L80.93 427Z"/><path d="M82.54 424.62L85.04 429.22L80.04 429.22Z"/><path d="M81.71 426.85L84.21 431.45L79.21 431.45Z"/><path d="M80.93 428.99L83.43 433.59L78.43 433.59Z"/><path d="M80.19 431L82.69 435.6L77.69 435.6Z"/><path d="M79.5 432.95L82 437.55L77 437.55Z"/><path d="M78.86 434.76L81.36 439.36L76.36 439.36Z"/><path d="M78.25 436.36L80.75 440.96L75.75 440.96Z"/><path d="M77.69 437.78L80.19 442.38L75.19 442.38Z"/><path d="M77.15 439.08L79.65 443.68L74.65 443.68Z"/><path d="M76.65 440.24L79.15 444.84L74.15 444.84Z"/><path d="M76.19 441.25L78.69 445.85L73.69 445.85Z"/><path d="M75.75 442.1L78.25 446.7L73.25 446.7Z"/><path d="M75.33 442.81L77.83 447.41L72.83 447.41Z"/><path d="M74.95 443.44L77.45 448.04L72.45 448.04Z"/><path d="M74.59 443.98L77.09 448.58L72.09 448.58Z"/><path d="M74.25 444.48L76.75 449.08L71.75 449.08Z"/><path d="M73.93 444.92L76.43 449.52L71.43 449.52Z"/><path d="M73.63 445.34L76.13 449.94L71.13 449.94Z"/><path d="M73.35 445.72L75.85 450.32L70.85 450.32Z"/><path d="M73.08 446.09L75.58 450.69L70.58 450.69Z"/><path d="M72.84 446.44L75.34 451.04L70.34 451.04Z"/><path d="M72.6 446.77L75.1 451.37L70.1 451.37Z"/><path d="M72.39 447.1L74.89 451.7L69.89 451.7Z"/><path d="M72.18 447.41L74.68 452.01L69.68 452.01Z"/><path d="M71.99 447.71L74.49 452.31L69.49 452.31Z"/><path d="M71.81 448L74.31 452.6L69.31 452.6Z"/><path d="M71.64 448.28L74.14 452.88L69.14 452.88Z"/><path d="M71.49 448.54L73.99 453.14L68.99 453.14Z"/><path d="M71.34 448.78L73.84 453.38L68.84 453.38Z"/><path d="M71.2 449.02L73.7 453.62L68.7 453.62Z"/><path d="M71.07 449.23L73.57 453.83L68.57 453.83Z"/><path d="M70.95 449.44L73.45 454.04L68.45 454.04Z"/><path d="M70.83 449.64L73.33 454.24L68.33 454.24Z"/><path d="M70.73 449.82L73.23 454.42L68.23 454.42Z"/><path d="M70.63 449.99L73.13 454.59L68.13 454.59Z"/><path d="M70.53 450.16L73.03 454.76L68.03 454.76Z"/><path d="M70.44 450.31L72.94 454.91L67.94 454.91Z"/><path d="M70.36 450.46L72.86 455.06L67.86 455.06Z"/><path d="M70.28 450.59L72.78 455.19L67.78 455.19Z"/><path d="M70.21 450.72L72.71 455.32L67.71 455.32Z"/><path d="M70.14 450.84L72.64 455.44L67.64 455.44Z"/><path d="M70.07 450.95L72.57 455.55L67.57 455.55Z"/><path d="M70.01 451.06L72.51 455.66L67.51 455.66Z"/><path d="M69.96 451.16L72.46 455.76L67.46 455.76Z"/><path d="M69.9 451.25L72.4 455.85L67.4 455.85Z"/><path d="M69.85 451.34L72.35 455.94L67.35 455.94Z"/><path d="M69.81 451.43L72.31 456.03L67.31 456.03Z"/><path d="M69.76 451.5L72.26 456.1L67.26 456.1Z"/><path d="M69.72 451.58L72.22 456.18L67.22 456.18Z"/><path d="M69.68 451.65L72.18 456.25L67.18 456.25Z"/><path d="M69.65 451.71L72.15 456.31L67.15 456.31Z"/><path d="M69.61 451.77L72.11 456.37L67.11 456.37Z"/><path d="M69.58 451.83L72.08 456.43L67.08 456.43Z"/><path d="M69.55 451.88L72.05 456.48L67.05 456.48Z"/><path d="M69.52 451.93L72.02 456.53L67.02 456.53Z"/><path d="M69.5 451.98L72 456.58L67 456.58Z"/><path d="M69.47 452.02L71.97 456.62L66.97 456.62Z"/><path d="M69.45 452.07L71.95 456.67L66.95 456.67Z"/><path d="M69.43 452.11L71.93 456.71L66.93 456.71Z"/><path d="M69.41 452.14L71.91 456.74L66.91 456.74Z"/><path d="M69.39 452.18L71.89 456.78L66.89 456.78Z"/><path d="M69.37 452.21L71.87 456.81L66.87 456.81Z"/><path d="M69.35 452.24L71.85 456.84L66.85 456.84Z"/><path d="M69.34 452.27L71.84 456.87L66.84 456.87Z"/><path d="M69.32 452.29L71.82 456.89L66.82 456.89Z"/><path d="M69.31 452.32L71.81 456.92L66.81 456.92Z"/><path d="M69.3 452.34L71.8 456.94L66.8 456.94Z"/><path d="M69.28 452.36L71.78 456.96L66.78 456.96Z"/><path d="M69.27 452.39L71.77 456.99L66.77 456.99Z"/></g>
<g><circle cx="242.8" cy="406.7" r="1.95" fill="none" stroke="#9a9aa0" stroke-width="1.3"/><circle cx="231.3" cy="406.7" r="1.95" fill="none" stroke="#9a9aa0" stroke-width="1.3"/><circle cx="221.2" cy="406.8" r="1.95" fill="none" stroke="#9a9aa0" stroke-width="1.3"/><circle cx="212" cy="408.1" r="1.95" fill="none" stroke="#9a9aa0" stroke-width="1.3"/><circle cx="202.4" cy="408.9" r="1.95" fill="none" stroke="#9a9aa0" stroke-width="1.3"/><circle cx="194.2" cy="409.6" r="1.95" fill="none" stroke="#9a9aa0" stroke-width="1.3"/><circle cx="186.6" cy="410.5" r="1.95" fill="none" stroke="#9a9aa0" stroke-width="1.3"/><circle cx="180.1" cy="411.5" r="1.95" fill="none" stroke="#9a9aa0" stroke-width="1.3"/><circle cx="173.4" cy="413.2" r="1.95" fill="none" stroke="#9a9aa0" stroke-width="1.3"/><circle cx="166.9" cy="414.4" r="1.95" fill="none" stroke="#9a9aa0" stroke-width="1.3"/><circle cx="160.9" cy="416.5" r="1.95" fill="none" stroke="#9a9aa0" stroke-width="1.3"/><circle cx="155.4" cy="418.4" r="1.95" fill="none" stroke="#9a9aa0" stroke-width="1.3"/><circle cx="150.2" cy="420.37" r="1.95" fill="none" stroke="#9a9aa0" stroke-width="1.3"/><circle cx="144.77" cy="422.17" r="1.95" fill="none" stroke="#9a9aa0" stroke-width="1.3"/><circle cx="140.08" cy="424.01" r="1.95" fill="none" stroke="#9a9aa0" stroke-width="1.3"/><circle cx="135.68" cy="425.61" r="1.95" fill="none" stroke="#9a9aa0" stroke-width="1.3"/><circle cx="131.55" cy="427.42" r="1.95" fill="none" stroke="#9a9aa0" stroke-width="1.3"/><circle cx="127.68" cy="429.11" r="1.95" fill="none" stroke="#9a9aa0" stroke-width="1.3"/><circle cx="124.05" cy="431.16" r="1.95" fill="none" stroke="#9a9aa0" stroke-width="1.3"/><circle cx="120.64" cy="433.03" r="1.95" fill="none" stroke="#9a9aa0" stroke-width="1.3"/><circle cx="117.44" cy="434.76" r="1.95" fill="none" stroke="#9a9aa0" stroke-width="1.3"/><circle cx="114.45" cy="436.33" r="1.95" fill="none" stroke="#9a9aa0" stroke-width="1.3"/><circle cx="111.64" cy="437.72" r="1.95" fill="none" stroke="#9a9aa0" stroke-width="1.3"/><circle cx="109" cy="439.11" r="1.95" fill="none" stroke="#9a9aa0" stroke-width="1.3"/><circle cx="106.52" cy="440.44" r="1.95" fill="none" stroke="#9a9aa0" stroke-width="1.3"/><circle cx="104.2" cy="441.6" r="1.95" fill="none" stroke="#9a9aa0" stroke-width="1.3"/><circle cx="102.03" cy="442.65" r="1.95" fill="none" stroke="#9a9aa0" stroke-width="1.3"/><circle cx="99.99" cy="443.64" r="1.95" fill="none" stroke="#9a9aa0" stroke-width="1.3"/><circle cx="98.07" cy="444.56" r="1.95" fill="none" stroke="#9a9aa0" stroke-width="1.3"/><circle cx="96.28" cy="445.41" r="1.95" fill="none" stroke="#9a9aa0" stroke-width="1.3"/><circle cx="94.59" cy="446.2" r="1.95" fill="none" stroke="#9a9aa0" stroke-width="1.3"/><circle cx="93.01" cy="446.92" r="1.95" fill="none" stroke="#9a9aa0" stroke-width="1.3"/><circle cx="91.53" cy="447.55" r="1.95" fill="none" stroke="#9a9aa0" stroke-width="1.3"/><circle cx="90.14" cy="448.09" r="1.95" fill="none" stroke="#9a9aa0" stroke-width="1.3"/><circle cx="88.83" cy="448.58" r="1.95" fill="none" stroke="#9a9aa0" stroke-width="1.3"/><circle cx="87.61" cy="449.01" r="1.95" fill="none" stroke="#9a9aa0" stroke-width="1.3"/><circle cx="86.46" cy="449.41" r="1.95" fill="none" stroke="#9a9aa0" stroke-width="1.3"/><circle cx="85.39" cy="449.77" r="1.95" fill="none" stroke="#9a9aa0" stroke-width="1.3"/><circle cx="84.38" cy="450.09" r="1.95" fill="none" stroke="#9a9aa0" stroke-width="1.3"/><circle cx="83.43" cy="450.39" r="1.95" fill="none" stroke="#9a9aa0" stroke-width="1.3"/><circle cx="82.54" cy="450.68" r="1.95" fill="none" stroke="#9a9aa0" stroke-width="1.3"/><circle cx="81.71" cy="450.96" r="1.95" fill="none" stroke="#9a9aa0" stroke-width="1.3"/><circle cx="80.93" cy="451.24" r="1.95" fill="none" stroke="#9a9aa0" stroke-width="1.3"/><circle cx="80.19" cy="451.52" r="1.95" fill="none" stroke="#9a9aa0" stroke-width="1.3"/><circle cx="79.5" cy="451.79" r="1.95" fill="none" stroke="#9a9aa0" stroke-width="1.3"/><circle cx="78.86" cy="452.05" r="1.95" fill="none" stroke="#9a9aa0" stroke-width="1.3"/><circle cx="78.25" cy="452.28" r="1.95" fill="none" stroke="#9a9aa0" stroke-width="1.3"/><circle cx="77.69" cy="452.49" r="1.95" fill="none" stroke="#9a9aa0" stroke-width="1.3"/><circle cx="77.15" cy="452.68" r="1.95" fill="none" stroke="#9a9aa0" stroke-width="1.3"/><circle cx="76.65" cy="452.85" r="1.95" fill="none" stroke="#9a9aa0" stroke-width="1.3"/><circle cx="76.19" cy="453" r="1.95" fill="none" stroke="#9a9aa0" stroke-width="1.3"/><circle cx="75.75" cy="453.14" r="1.95" fill="none" stroke="#9a9aa0" stroke-width="1.3"/><circle cx="75.33" cy="453.27" r="1.95" fill="none" stroke="#9a9aa0" stroke-width="1.3"/><circle cx="74.95" cy="453.39" r="1.95" fill="none" stroke="#9a9aa0" stroke-width="1.3"/><circle cx="74.59" cy="453.5" r="1.95" fill="none" stroke="#9a9aa0" stroke-width="1.3"/><circle cx="74.25" cy="453.61" r="1.95" fill="none" stroke="#9a9aa0" stroke-width="1.3"/><circle cx="73.93" cy="453.71" r="1.95" fill="none" stroke="#9a9aa0" stroke-width="1.3"/><circle cx="73.63" cy="453.79" r="1.95" fill="none" stroke="#9a9aa0" stroke-width="1.3"/><circle cx="73.35" cy="453.88" r="1.95" fill="none" stroke="#9a9aa0" stroke-width="1.3"/><circle cx="73.08" cy="453.95" r="1.95" fill="none" stroke="#9a9aa0" stroke-width="1.3"/><circle cx="72.84" cy="454.03" r="1.95" fill="none" stroke="#9a9aa0" stroke-width="1.3"/><circle cx="72.6" cy="454.09" r="1.95" fill="none" stroke="#9a9aa0" stroke-width="1.3"/><circle cx="72.39" cy="454.15" r="1.95" fill="none" stroke="#9a9aa0" stroke-width="1.3"/><circle cx="72.18" cy="454.21" r="1.95" fill="none" stroke="#9a9aa0" stroke-width="1.3"/><circle cx="71.99" cy="454.26" r="1.95" fill="none" stroke="#9a9aa0" stroke-width="1.3"/><circle cx="71.81" cy="454.31" r="1.95" fill="none" stroke="#9a9aa0" stroke-width="1.3"/><circle cx="71.64" cy="454.36" r="1.95" fill="none" stroke="#9a9aa0" stroke-width="1.3"/><circle cx="71.49" cy="454.4" r="1.95" fill="none" stroke="#9a9aa0" stroke-width="1.3"/><circle cx="71.34" cy="454.44" r="1.95" fill="none" stroke="#9a9aa0" stroke-width="1.3"/><circle cx="71.2" cy="454.48" r="1.95" fill="none" stroke="#9a9aa0" stroke-width="1.3"/><circle cx="71.07" cy="454.51" r="1.95" fill="none" stroke="#9a9aa0" stroke-width="1.3"/><circle cx="70.95" cy="454.54" r="1.95" fill="none" stroke="#9a9aa0" stroke-width="1.3"/><circle cx="70.83" cy="454.57" r="1.95" fill="none" stroke="#9a9aa0" stroke-width="1.3"/><circle cx="70.73" cy="454.6" r="1.95" fill="none" stroke="#9a9aa0" stroke-width="1.3"/><circle cx="70.63" cy="454.63" r="1.95" fill="none" stroke="#9a9aa0" stroke-width="1.3"/><circle cx="70.53" cy="454.65" r="1.95" fill="none" stroke="#9a9aa0" stroke-width="1.3"/><circle cx="70.44" cy="454.68" r="1.95" fill="none" stroke="#9a9aa0" stroke-width="1.3"/><circle cx="70.36" cy="454.7" r="1.95" fill="none" stroke="#9a9aa0" stroke-width="1.3"/><circle cx="70.28" cy="454.72" r="1.95" fill="none" stroke="#9a9aa0" stroke-width="1.3"/><circle cx="70.21" cy="454.73" r="1.95" fill="none" stroke="#9a9aa0" stroke-width="1.3"/><circle cx="70.14" cy="454.75" r="1.95" fill="none" stroke="#9a9aa0" stroke-width="1.3"/><circle cx="70.07" cy="454.77" r="1.95" fill="none" stroke="#9a9aa0" stroke-width="1.3"/><circle cx="70.01" cy="454.78" r="1.95" fill="none" stroke="#9a9aa0" stroke-width="1.3"/><circle cx="69.96" cy="454.8" r="1.95" fill="none" stroke="#9a9aa0" stroke-width="1.3"/><circle cx="69.9" cy="454.81" r="1.95" fill="none" stroke="#9a9aa0" stroke-width="1.3"/><circle cx="69.85" cy="454.82" r="1.95" fill="none" stroke="#9a9aa0" stroke-width="1.3"/><circle cx="69.81" cy="454.83" r="1.95" fill="none" stroke="#9a9aa0" stroke-width="1.3"/><circle cx="69.76" cy="454.84" r="1.95" fill="none" stroke="#9a9aa0" stroke-width="1.3"/><circle cx="69.72" cy="454.85" r="1.95" fill="none" stroke="#9a9aa0" stroke-width="1.3"/><circle cx="69.68" cy="454.86" r="1.95" fill="none" stroke="#9a9aa0" stroke-width="1.3"/><circle cx="69.65" cy="454.87" r="1.95" fill="none" stroke="#9a9aa0" stroke-width="1.3"/><circle cx="69.61" cy="454.88" r="1.95" fill="none" stroke="#9a9aa0" stroke-width="1.3"/><circle cx="69.58" cy="454.89" r="1.95" fill="none" stroke="#9a9aa0" stroke-width="1.3"/><circle cx="69.55" cy="454.89" r="1.95" fill="none" stroke="#9a9aa0" stroke-width="1.3"/><circle cx="69.52" cy="454.9" r="1.95" fill="none" stroke="#9a9aa0" stroke-width="1.3"/><circle cx="69.5" cy="454.91" r="1.95" fill="none" stroke="#9a9aa0" stroke-width="1.3"/><circle cx="69.47" cy="454.91" r="1.95" fill="none" stroke="#9a9aa0" stroke-width="1.3"/><circle cx="69.45" cy="454.92" r="1.95" fill="none" stroke="#9a9aa0" stroke-width="1.3"/><circle cx="69.43" cy="454.92" r="1.95" fill="none" stroke="#9a9aa0" stroke-width="1.3"/><circle cx="69.41" cy="454.93" r="1.95" fill="none" stroke="#9a9aa0" stroke-width="1.3"/><circle cx="69.39" cy="454.93" r="1.95" fill="none" stroke="#9a9aa0" stroke-width="1.3"/><circle cx="69.37" cy="454.94" r="1.95" fill="none" stroke="#9a9aa0" stroke-width="1.3"/><circle cx="69.35" cy="454.94" r="1.95" fill="none" stroke="#9a9aa0" stroke-width="1.3"/><circle cx="69.34" cy="454.94" r="1.95" fill="none" stroke="#9a9aa0" stroke-width="1.3"/><circle cx="69.32" cy="454.95" r="1.95" fill="none" stroke="#9a9aa0" stroke-width="1.3"/><circle cx="69.31" cy="454.95" r="1.95" fill="none" stroke="#9a9aa0" stroke-width="1.3"/><circle cx="69.3" cy="454.95" r="1.95" fill="none" stroke="#9a9aa0" stroke-width="1.3"/><circle cx="69.28" cy="454.96" r="1.95" fill="none" stroke="#9a9aa0" stroke-width="1.3"/><circle cx="69.27" cy="454.96" r="1.95" fill="none" stroke="#9a9aa0" stroke-width="1.3"/></g>
<g fill="#0000ff"><path d="M240.3 440.3L245.3 440.3L242.8 444.9Z"/><path d="M228.8 439.9L233.8 439.9L231.3 444.5Z"/><path d="M218.7 439.6L223.7 439.6L221.2 444.2Z"/><path d="M209.5 439.1L214.5 439.1L212 443.7Z"/><path d="M199.9 438.4L204.9 438.4L202.4 443Z"/><path d="M191.7 438L196.7 438L194.2 442.6Z"/><path d="M184.1 437.4L189.1 437.4L186.6 442Z"/><path d="M177.6 436.9L182.6 436.9L180.1 441.5Z"/><path d="M170.9 436.5L175.9 436.5L173.4 441.1Z"/><path d="M164.4 435.9L169.4 435.9L166.9 440.5Z"/><path d="M158.4 435.6L163.4 435.6L160.9 440.2Z"/><path d="M152.9 435.12L157.9 435.12L155.4 439.72Z"/><path d="M147.7 434.7L152.7 434.7L150.2 439.3Z"/><path d="M142.27 434.41L147.27 434.41L144.77 439.01Z"/><path d="M137.58 434.1L142.58 434.1L140.08 438.7Z"/><path d="M133.18 433.8L138.18 433.8L135.68 438.4Z"/><path d="M129.05 433.51L134.05 433.51L131.55 438.11Z"/><path d="M125.18 433.42L130.18 433.42L127.68 438.02Z"/><path d="M121.55 433.32L126.55 433.32L124.05 437.92Z"/><path d="M118.14 433.3L123.14 433.3L120.64 437.9Z"/><path d="M114.94 433.3L119.94 433.3L117.44 437.9Z"/><path d="M111.95 433.44L116.95 433.44L114.45 438.04Z"/><path d="M109.14 433.63L114.14 433.63L111.64 438.23Z"/><path d="M106.5 433.89L111.5 433.89L109 438.49Z"/><path d="M104.02 434.15L109.02 434.15L106.52 438.75Z"/><path d="M101.7 434.4L106.7 434.4L104.2 439Z"/><path d="M99.53 434.67L104.53 434.67L102.03 439.27Z"/><path d="M97.49 434.99L102.49 434.99L99.99 439.59Z"/><path d="M95.57 435.38L100.57 435.38L98.07 439.98Z"/><path d="M93.78 435.81L98.78 435.81L96.28 440.41Z"/><path d="M92.09 436.28L97.09 436.28L94.59 440.88Z"/><path d="M90.51 436.79L95.51 436.79L93.01 441.39Z"/><path d="M89.03 437.26L94.03 437.26L91.53 441.86Z"/><path d="M87.64 437.67L92.64 437.67L90.14 442.27Z"/><path d="M86.33 438.04L91.33 438.04L88.83 442.64Z"/><path d="M85.11 438.42L90.11 438.42L87.61 443.02Z"/><path d="M83.96 438.81L88.96 438.81L86.46 443.41Z"/><path d="M82.89 439.24L87.89 439.24L85.39 443.84Z"/><path d="M81.88 439.67L86.88 439.67L84.38 444.27Z"/><path d="M80.93 440.12L85.93 440.12L83.43 444.72Z"/><path d="M80.04 440.58L85.04 440.58L82.54 445.18Z"/><path d="M79.21 441.04L84.21 441.04L81.71 445.64Z"/><path d="M78.43 441.51L83.43 441.51L80.93 446.11Z"/><path d="M77.69 441.99L82.69 441.99L80.19 446.59Z"/><path d="M77 442.48L82 442.48L79.5 447.08Z"/><path d="M76.36 442.97L81.36 442.97L78.86 447.57Z"/><path d="M75.75 443.46L80.75 443.46L78.25 448.06Z"/><path d="M75.19 443.93L80.19 443.93L77.69 448.53Z"/><path d="M74.65 444.39L79.65 444.39L77.15 448.99Z"/><path d="M74.15 444.83L79.15 444.83L76.65 449.43Z"/><path d="M73.69 445.29L78.69 445.29L76.19 449.89Z"/><path d="M73.25 445.76L78.25 445.76L75.75 450.36Z"/><path d="M72.83 446.22L77.83 446.22L75.33 450.82Z"/><path d="M72.45 446.66L77.45 446.66L74.95 451.26Z"/><path d="M72.09 447.07L77.09 447.07L74.59 451.67Z"/><path d="M71.75 447.44L76.75 447.44L74.25 452.04Z"/><path d="M71.43 447.77L76.43 447.77L73.93 452.37Z"/><path d="M71.13 448.07L76.13 448.07L73.63 452.67Z"/><path d="M70.85 448.33L75.85 448.33L73.35 452.93Z"/><path d="M70.58 448.58L75.58 448.58L73.08 453.18Z"/><path d="M70.34 448.8L75.34 448.8L72.84 453.4Z"/><path d="M70.1 449L75.1 449L72.6 453.6Z"/><path d="M69.89 449.2L74.89 449.2L72.39 453.8Z"/><path d="M69.68 449.38L74.68 449.38L72.18 453.98Z"/><path d="M69.49 449.55L74.49 449.55L71.99 454.15Z"/><path d="M69.31 449.71L74.31 449.71L71.81 454.31Z"/><path d="M69.14 449.87L74.14 449.87L71.64 454.47Z"/><path d="M68.99 450.02L73.99 450.02L71.49 454.62Z"/><path d="M68.84 450.16L73.84 450.16L71.34 454.76Z"/><path d="M68.7 450.3L73.7 450.3L71.2 454.9Z"/><path d="M68.57 450.43L73.57 450.43L71.07 455.03Z"/><path d="M68.45 450.55L73.45 450.55L70.95 455.15Z"/><path d="M68.33 450.68L73.33 450.68L70.83 455.28Z"/><path d="M68.23 450.79L73.23 450.79L70.73 455.39Z"/><path d="M68.13 450.9L73.13 450.9L70.63 455.5Z"/><path d="M68.03 451L73.03 451L70.53 455.6Z"/><path d="M67.94 451.1L72.94 451.1L70.44 455.7Z"/><path d="M67.86 451.2L72.86 451.2L70.36 455.8Z"/><path d="M67.78 451.28L72.78 451.28L70.28 455.88Z"/><path d="M67.71 451.37L72.71 451.37L70.21 455.97Z"/><path d="M67.64 451.45L72.64 451.45L70.14 456.05Z"/><path d="M67.57 451.52L72.57 451.52L70.07 456.12Z"/><path d="M67.51 451.59L72.51 451.59L70.01 456.19Z"/><path d="M67.46 451.66L72.46 451.66L69.96 456.26Z"/><path d="M67.4 451.72L72.4 451.72L69.9 456.32Z"/><path d="M67.35 451.78L72.35 451.78L69.85 456.38Z"/><path d="M67.31 451.84L72.31 451.84L69.81 456.44Z"/><path d="M67.26 451.89L72.26 451.89L69.76 456.49Z"/><path d="M67.22 451.94L72.22 451.94L69.72 456.54Z"/><path d="M67.18 451.98L72.18 451.98L69.68 456.58Z"/><path d="M67.15 452.03L72.15 452.03L69.65 456.63Z"/><path d="M67.11 452.07L72.11 452.07L69.61 456.67Z"/><path d="M67.08 452.11L72.08 452.11L69.58 456.71Z"/><path d="M67.05 452.14L72.05 452.14L69.55 456.74Z"/><path d="M67.02 452.18L72.02 452.18L69.52 456.78Z"/><path d="M67 452.21L72 452.21L69.5 456.81Z"/><path d="M66.97 452.24L71.97 452.24L69.47 456.84Z"/><path d="M66.95 452.27L71.95 452.27L69.45 456.87Z"/><path d="M66.93 452.29L71.93 452.29L69.43 456.89Z"/><path d="M66.91 452.32L71.91 452.32L69.41 456.92Z"/><path d="M66.89 452.34L71.89 452.34L69.39 456.94Z"/><path d="M66.87 452.36L71.87 452.36L69.37 456.96Z"/><path d="M66.85 452.38L71.85 452.38L69.35 456.98Z"/><path d="M66.84 452.4L71.84 452.4L69.34 457Z"/><path d="M66.82 452.42L71.82 452.42L69.32 457.02Z"/><path d="M66.81 452.44L71.81 452.44L69.31 457.04Z"/><path d="M66.8 452.46L71.8 452.46L69.3 457.06Z"/><path d="M66.78 452.47L71.78 452.47L69.28 457.07Z"/><path d="M66.77 452.48L71.77 452.48L69.27 457.08Z"/></g>
<g fill="#00b400"><rect x="240.65" y="414.75" width="4.3" height="4.3"/><rect x="229.15" y="411.85" width="4.3" height="4.3"/><rect x="219.05" y="408.65" width="4.3" height="4.3"/><rect x="209.85" y="405.95" width="4.3" height="4.3"/><rect x="200.25" y="403.05" width="4.3" height="4.3"/><rect x="192.05" y="400.05" width="4.3" height="4.3"/><rect x="184.45" y="397.35" width="4.3" height="4.3"/><rect x="177.95" y="395.15" width="4.3" height="4.3"/><rect x="171.25" y="392.75" width="4.3" height="4.3"/><rect x="164.75" y="390.35" width="4.3" height="4.3"/><rect x="158.75" y="388.05" width="4.3" height="4.3"/><rect x="153.25" y="386.12" width="4.3" height="4.3"/><rect x="148.05" y="384.35" width="4.3" height="4.3"/><rect x="142.62" y="382.51" width="4.3" height="4.3"/><rect x="137.93" y="380.9" width="4.3" height="4.3"/><rect x="133.53" y="379.74" width="4.3" height="4.3"/><rect x="129.4" y="378.78" width="4.3" height="4.3"/><rect x="125.53" y="378.13" width="4.3" height="4.3"/><rect x="121.9" y="377.61" width="4.3" height="4.3"/><rect x="118.49" y="377.55" width="4.3" height="4.3"/><rect x="115.29" y="377.58" width="4.3" height="4.3"/><rect x="112.3" y="377.83" width="4.3" height="4.3"/><rect x="109.49" y="378.49" width="4.3" height="4.3"/><rect x="106.85" y="379.58" width="4.3" height="4.3"/><rect x="104.37" y="381.14" width="4.3" height="4.3"/><rect x="102.05" y="382.44" width="4.3" height="4.3"/><rect x="99.88" y="383.61" width="4.3" height="4.3"/><rect x="97.84" y="384.76" width="4.3" height="4.3"/><rect x="95.92" y="385.87" width="4.3" height="4.3"/><rect x="94.13" y="386.95" width="4.3" height="4.3"/><rect x="92.44" y="388.26" width="4.3" height="4.3"/><rect x="90.86" y="390.16" width="4.3" height="4.3"/><rect x="89.38" y="392.47" width="4.3" height="4.3"/><rect x="87.99" y="394.69" width="4.3" height="4.3"/><rect x="86.68" y="396.94" width="4.3" height="4.3"/><rect x="85.46" y="399.11" width="4.3" height="4.3"/><rect x="84.31" y="401.07" width="4.3" height="4.3"/><rect x="83.24" y="402.9" width="4.3" height="4.3"/><rect x="82.23" y="404.8" width="4.3" height="4.3"/><rect x="81.28" y="406.73" width="4.3" height="4.3"/><rect x="80.39" y="408.87" width="4.3" height="4.3"/><rect x="79.56" y="411.67" width="4.3" height="4.3"/><rect x="78.78" y="415.31" width="4.3" height="4.3"/><rect x="78.04" y="418.68" width="4.3" height="4.3"/><rect x="77.35" y="421.44" width="4.3" height="4.3"/><rect x="76.71" y="423.91" width="4.3" height="4.3"/><rect x="76.1" y="426.21" width="4.3" height="4.3"/><rect x="75.54" y="428.4" width="4.3" height="4.3"/><rect x="75" y="430.5" width="4.3" height="4.3"/><rect x="74.5" y="432.49" width="4.3" height="4.3"/><rect x="74.04" y="434.36" width="4.3" height="4.3"/><rect x="73.6" y="436.1" width="4.3" height="4.3"/><rect x="73.18" y="437.71" width="4.3" height="4.3"/><rect x="72.8" y="439.28" width="4.3" height="4.3"/><rect x="72.44" y="440.84" width="4.3" height="4.3"/><rect x="72.1" y="442.32" width="4.3" height="4.3"/><rect x="71.78" y="443.66" width="4.3" height="4.3"/><rect x="71.48" y="444.83" width="4.3" height="4.3"/><rect x="71.2" y="445.81" width="4.3" height="4.3"/><rect x="70.93" y="446.59" width="4.3" height="4.3"/><rect x="70.69" y="447.19" width="4.3" height="4.3"/><rect x="70.45" y="447.71" width="4.3" height="4.3"/><rect x="70.24" y="448.2" width="4.3" height="4.3"/><rect x="70.03" y="448.64" width="4.3" height="4.3"/><rect x="69.84" y="449.05" width="4.3" height="4.3"/><rect x="69.66" y="449.43" width="4.3" height="4.3"/><rect x="69.49" y="449.77" width="4.3" height="4.3"/><rect x="69.34" y="450.08" width="4.3" height="4.3"/><rect x="69.19" y="450.36" width="4.3" height="4.3"/><rect x="69.05" y="450.62" width="4.3" height="4.3"/><rect x="68.92" y="450.85" width="4.3" height="4.3"/><rect x="68.8" y="451.06" width="4.3" height="4.3"/><rect x="68.68" y="451.24" width="4.3" height="4.3"/><rect x="68.58" y="451.41" width="4.3" height="4.3"/><rect x="68.48" y="451.56" width="4.3" height="4.3"/><rect x="68.38" y="451.7" width="4.3" height="4.3"/><rect x="68.29" y="451.82" width="4.3" height="4.3"/><rect x="68.21" y="451.93" width="4.3" height="4.3"/><rect x="68.13" y="452.03" width="4.3" height="4.3"/><rect x="68.06" y="452.11" width="4.3" height="4.3"/><rect x="67.99" y="452.19" width="4.3" height="4.3"/><rect x="67.92" y="452.26" width="4.3" height="4.3"/><rect x="67.86" y="452.32" width="4.3" height="4.3"/><rect x="67.81" y="452.38" width="4.3" height="4.3"/><rect x="67.75" y="452.43" width="4.3" height="4.3"/><rect x="67.7" y="452.47" width="4.3" height="4.3"/><rect x="67.66" y="452.51" width="4.3" height="4.3"/><rect x="67.61" y="452.55" width="4.3" height="4.3"/><rect x="67.57" y="452.58" width="4.3" height="4.3"/><rect x="67.53" y="452.61" width="4.3" height="4.3"/><rect x="67.5" y="452.63" width="4.3" height="4.3"/><rect x="67.46" y="452.65" width="4.3" height="4.3"/><rect x="67.43" y="452.67" width="4.3" height="4.3"/><rect x="67.4" y="452.69" width="4.3" height="4.3"/><rect x="67.37" y="452.71" width="4.3" height="4.3"/><rect x="67.35" y="452.72" width="4.3" height="4.3"/><rect x="67.32" y="452.73" width="4.3" height="4.3"/><rect x="67.3" y="452.75" width="4.3" height="4.3"/><rect x="67.28" y="452.76" width="4.3" height="4.3"/><rect x="67.26" y="452.76" width="4.3" height="4.3"/><rect x="67.24" y="452.77" width="4.3" height="4.3"/><rect x="67.22" y="452.78" width="4.3" height="4.3"/><rect x="67.2" y="452.79" width="4.3" height="4.3"/><rect x="67.19" y="452.79" width="4.3" height="4.3"/><rect x="67.17" y="452.8" width="4.3" height="4.3"/><rect x="67.16" y="452.8" width="4.3" height="4.3"/><rect x="67.15" y="452.81" width="4.3" height="4.3"/><rect x="67.13" y="452.81" width="4.3" height="4.3"/><rect x="67.12" y="452.81" width="4.3" height="4.3"/></g>
<g fill="#000"><circle cx="242.8" cy="356.5" r="2.3"/><circle cx="231.3" cy="353" r="2.3"/><circle cx="221.2" cy="349.8" r="2.3"/><circle cx="212" cy="347.6" r="2.3"/><circle cx="202.4" cy="344.6" r="2.3"/><circle cx="194.2" cy="342.1" r="2.3"/><circle cx="186.6" cy="339.6" r="2.3"/><circle cx="180.1" cy="338" r="2.3"/><circle cx="173.4" cy="336.4" r="2.3"/><circle cx="166.9" cy="334.9" r="2.3"/><circle cx="160.9" cy="334.2" r="2.3"/><circle cx="155.4" cy="333.62" r="2.3"/><circle cx="150.2" cy="333.1" r="2.3"/><circle cx="144.77" cy="332.9" r="2.3"/><circle cx="140.08" cy="333.01" r="2.3"/><circle cx="135.68" cy="333.7" r="2.3"/><circle cx="131.55" cy="334.51" r="2.3"/><circle cx="127.68" cy="335.51" r="2.3"/><circle cx="124.05" cy="336.97" r="2.3"/><circle cx="120.64" cy="338.93" r="2.3"/><circle cx="117.44" cy="340.76" r="2.3"/><circle cx="114.45" cy="342.51" r="2.3"/><circle cx="111.64" cy="344.24" r="2.3"/><circle cx="109" cy="346.02" r="2.3"/><circle cx="106.52" cy="348.14" r="2.3"/><circle cx="104.2" cy="350.66" r="2.3"/><circle cx="102.03" cy="353.48" r="2.3"/><circle cx="99.99" cy="356.62" r="2.3"/><circle cx="98.07" cy="360.23" r="2.3"/><circle cx="96.28" cy="363.92" r="2.3"/><circle cx="94.59" cy="367.12" r="2.3"/><circle cx="93.01" cy="369.63" r="2.3"/><circle cx="91.53" cy="372.55" r="2.3"/><circle cx="90.14" cy="375.56" r="2.3"/><circle cx="88.83" cy="378.49" r="2.3"/><circle cx="87.61" cy="381.25" r="2.3"/><circle cx="86.46" cy="384.13" r="2.3"/><circle cx="85.39" cy="387.06" r="2.3"/><circle cx="84.38" cy="389.97" r="2.3"/><circle cx="83.43" cy="392.94" r="2.3"/><circle cx="82.54" cy="395.85" r="2.3"/><circle cx="81.71" cy="398.54" r="2.3"/><circle cx="80.93" cy="401.05" r="2.3"/><circle cx="80.19" cy="403.38" r="2.3"/><circle cx="79.5" cy="405.48" r="2.3"/><circle cx="78.86" cy="407.29" r="2.3"/><circle cx="78.25" cy="408.94" r="2.3"/><circle cx="77.69" cy="410.58" r="2.3"/><circle cx="77.15" cy="412.34" r="2.3"/><circle cx="76.65" cy="414.18" r="2.3"/><circle cx="76.19" cy="416.04" r="2.3"/><circle cx="75.75" cy="417.87" r="2.3"/><circle cx="75.33" cy="419.65" r="2.3"/><circle cx="74.95" cy="421.38" r="2.3"/><circle cx="74.59" cy="423.09" r="2.3"/><circle cx="74.25" cy="424.76" r="2.3"/><circle cx="73.93" cy="426.35" r="2.3"/><circle cx="73.63" cy="427.86" r="2.3"/><circle cx="73.35" cy="429.27" r="2.3"/><circle cx="73.08" cy="430.58" r="2.3"/><circle cx="72.84" cy="431.8" r="2.3"/><circle cx="72.6" cy="432.94" r="2.3"/><circle cx="72.39" cy="434.03" r="2.3"/><circle cx="72.18" cy="435.06" r="2.3"/><circle cx="71.99" cy="436.05" r="2.3"/><circle cx="71.81" cy="437" r="2.3"/><circle cx="71.64" cy="437.92" r="2.3"/><circle cx="71.49" cy="438.8" r="2.3"/><circle cx="71.34" cy="439.65" r="2.3"/><circle cx="71.2" cy="440.47" r="2.3"/><circle cx="71.07" cy="441.26" r="2.3"/><circle cx="70.95" cy="442.02" r="2.3"/><circle cx="70.83" cy="442.74" r="2.3"/><circle cx="70.73" cy="443.43" r="2.3"/><circle cx="70.63" cy="444.08" r="2.3"/><circle cx="70.53" cy="444.7" r="2.3"/><circle cx="70.44" cy="445.29" r="2.3"/><circle cx="70.36" cy="445.85" r="2.3"/><circle cx="70.28" cy="446.38" r="2.3"/><circle cx="70.21" cy="446.87" r="2.3"/><circle cx="70.14" cy="447.34" r="2.3"/><circle cx="70.07" cy="447.79" r="2.3"/><circle cx="70.01" cy="448.21" r="2.3"/><circle cx="69.96" cy="448.6" r="2.3"/><circle cx="69.9" cy="448.97" r="2.3"/><circle cx="69.85" cy="449.32" r="2.3"/><circle cx="69.81" cy="449.65" r="2.3"/><circle cx="69.76" cy="449.97" r="2.3"/><circle cx="69.72" cy="450.27" r="2.3"/><circle cx="69.68" cy="450.55" r="2.3"/><circle cx="69.65" cy="450.81" r="2.3"/><circle cx="69.61" cy="451.06" r="2.3"/><circle cx="69.58" cy="451.3" r="2.3"/><circle cx="69.55" cy="451.52" r="2.3"/><circle cx="69.52" cy="451.73" r="2.3"/><circle cx="69.5" cy="451.93" r="2.3"/><circle cx="69.47" cy="452.12" r="2.3"/><circle cx="69.45" cy="452.29" r="2.3"/><circle cx="69.43" cy="452.46" r="2.3"/><circle cx="69.41" cy="452.61" r="2.3"/><circle cx="69.39" cy="452.76" r="2.3"/><circle cx="69.37" cy="452.9" r="2.3"/><circle cx="69.35" cy="453.02" r="2.3"/><circle cx="69.34" cy="453.15" r="2.3"/><circle cx="69.32" cy="453.26" r="2.3"/><circle cx="69.31" cy="453.37" r="2.3"/><circle cx="69.3" cy="453.47" r="2.3"/><circle cx="69.28" cy="453.56" r="2.3"/><circle cx="69.27" cy="453.65" r="2.3"/></g>
<polyline fill="none" stroke="#000" stroke-width="1" points="470.1,455.4 471.1,453.35 472.1,451.07 473.1,448.66 474.1,446.2 475.1,443.72 476.1,441.26 477.1,438.83 478.1,436.44 479.1,434.11 480.1,431.82 481.1,429.58 482.1,427.4 483.1,425.26 484.1,423.17 485.1,421.12 486.1,419.12 487.1,417.16 488.1,415.24 489.1,413.36 490.1,411.51 491.1,409.71 492.1,407.94 493.1,406.21 494.1,404.51 495.1,402.85 496.1,401.22 497.1,399.62 498.1,398.06 499.1,396.52 500.1,395.02 501.1,393.55 502.1,392.11 503.1,390.7 504.1,389.32 505.1,387.97 506.1,386.65 507.1,385.36 508.1,384.1 509.1,382.86 510.1,381.65 511.1,380.47 512.1,379.32 513.1,378.19 514.1,377.09 515.1,376.01 516.1,374.96 517.1,373.94 518.1,372.94 519.1,371.97 520.1,371.02 521.1,370.1 522.1,369.2 523.1,368.32 524.1,367.47 525.1,366.64 526.1,365.82 527.1,365.03 528.1,364.31 529.1,363.66 530.1,363.06 531.1,362.49 532.1,361.91 533.1,361.34 534.1,360.79 535.1,360.26 536.1,359.75 537.1,359.27 538.1,358.81 539.1,358.35 540.1,357.9 541.1,357.44 542.1,356.97 543.1,356.51 544.1,356.07 545.1,355.66 546.1,355.28 547.1,354.93 548.1,354.59 549.1,354.26 550.1,353.93 551.1,353.61 552.1,353.3 553.1,352.99 554.1,352.69 555.1,352.4 556.1,352.1 557.1,351.8 558.1,351.5 559.1,351.23 560.1,350.98 561.1,350.79 562.1,350.61 563.1,350.46 564.1,350.32 565.1,350.18 566.1,350.03 567.1,349.87 568.1,349.68 569.1,349.49 570.1,349.31 571.1,349.15 572.1,349.04 573.1,348.98 574.1,348.94 575.1,348.91 576.1,348.89 577.1,348.86 578.1,348.84 579.1,348.81 580.1,348.77 581.1,348.72 582.1,348.67 583.1,348.61 584.1,348.56 585.1,348.52 586.1,348.5 587.1,348.5 588.1,348.51 589.1,348.53 590.1,348.56 591.1,348.59 592.1,348.63 593.1,348.67 594.1,348.71 595.1,348.77 596.1,348.85 597.1,348.95 598.1,349.06 599.1,349.17 600.1,349.29 601.1,349.4 602.1,349.5 603.1,349.59 604.1,349.68 605.1,349.77 606.1,349.85 607.1,349.94 608.1,350.03 609.1,350.12 610.1,350.22 611.1,350.32 612.1,350.44 613.1,350.56 614.1,350.7 615.1,350.85 616.1,351.01 617.1,351.17 618.1,351.34 619.1,351.51 620.1,351.68 621.1,351.85 622.1,352.03 623.1,352.22 624.1,352.41 625.1,352.6 626.1,352.8 627.1,353 628.1,353.19 629.1,353.39 630.1,353.57 631.1,353.75 632.1,353.92 633.1,354.09 634.1,354.25 635.1,354.41 636.1,354.56 637.1,354.72 638.1,354.89 639.1,355.05 640.1,355.23 641.1,355.42 642.1,355.62 643.1,355.83 644.1,356.04 645.1,356.27 646.1,356.5 647.1,356.73 648.1,356.97 649.1,357.21 650.1,357.45 651.1,357.69 652.1,357.93 653.1,358.16 654.1,358.4 655.1,358.64 656.1,358.87 657.1,359.11 658.1,359.35 659.1,359.58 660.1,359.83 661.1,360.07 662.1,360.31 663.1,360.56 664.1,360.81 665.1,361.06 666.1,361.31 667.1,361.57 668.1,361.83 669.1,362.09 670.1,362.36 671.1,362.63 672.1,362.9 673.1,363.18 674.1,363.46 675.1,363.75 676.1,364.04 677.1,364.33 677.7,364.5"/>
<polyline fill="none" stroke="#ff0000" stroke-width="1" points="470.1,455.4 471.1,452.66 472.1,449.96 473.1,447.31 474.1,444.71 475.1,442.15 476.1,439.63 477.1,437.17 478.1,434.74 479.1,432.36 480.1,430.02 481.1,427.73 482.1,425.48 483.1,423.26 484.1,421.09 485.1,418.96 486.1,416.87 487.1,414.82 488.1,412.8 489.1,410.83 490.1,408.89 491.1,406.99 492.1,405.12 493.1,403.29 494.1,401.5 495.1,399.74 496.1,398.02 497.1,396.33 498.1,394.67 499.1,393.05 500.1,391.46 501.1,389.91 502.1,388.38 503.1,386.89 504.1,385.43 505.1,384 506.1,382.6 507.1,381.24 508.1,379.9 509.1,378.59 510.1,377.31 511.1,376.06 512.1,374.84 513.1,373.64 514.1,372.48 515.1,371.34 516.1,370.23 517.1,369.14 518.1,368.09 519.1,367.06 520.1,366.05 521.1,365.07 522.1,364.12 523.1,363.2 524.1,362.29 525.1,361.42 526.1,360.56 527.1,359.74 528.1,358.93 529.1,358.14 530.1,357.37 531.1,356.68 532.1,356.05 533.1,355.47 534.1,354.92 535.1,354.39 536.1,353.86 537.1,353.33 538.1,352.77 539.1,352.2 540.1,351.62 541.1,351.06 542.1,350.55 543.1,350.08 544.1,349.65 545.1,349.23 546.1,348.84 547.1,348.47 548.1,348.11 549.1,347.78 550.1,347.45 551.1,347.13 552.1,346.81 553.1,346.49 554.1,346.19 555.1,345.89 556.1,345.6 557.1,345.32 558.1,345.04 559.1,344.78 560.1,344.52 561.1,344.27 562.1,344.04 563.1,343.81 564.1,343.6 565.1,343.39 566.1,343.19 567.1,343 568.1,342.82 569.1,342.65 570.1,342.48 571.1,342.32 572.1,342.16 573.1,342.01 574.1,341.87 575.1,341.75 576.1,341.63 577.1,341.53 578.1,341.42 579.1,341.33 580.1,341.24 581.1,341.17 582.1,341.11 583.1,341.07 584.1,341.03 585.1,340.99 586.1,340.96 587.1,340.93 588.1,340.91 589.1,340.9 590.1,340.9 591.1,340.92 592.1,340.95 593.1,341 594.1,341.07 595.1,341.14 596.1,341.21 597.1,341.29 598.1,341.37 599.1,341.47 600.1,341.59 601.1,341.72 602.1,341.86 603.1,342 604.1,342.12 605.1,342.24 606.1,342.34 607.1,342.42 608.1,342.49 609.1,342.56 610.1,342.63 611.1,342.7 612.1,342.77 613.1,342.85 614.1,342.94 615.1,343.05 616.1,343.18 617.1,343.33 618.1,343.51 619.1,343.69 620.1,343.88 621.1,344.08 622.1,344.27 623.1,344.45 624.1,344.62 625.1,344.77 626.1,344.92 627.1,345.07 628.1,345.21 629.1,345.36 630.1,345.5 631.1,345.64 632.1,345.79 633.1,345.94 634.1,346.1 635.1,346.27 636.1,346.44 637.1,346.61 638.1,346.79 639.1,346.98 640.1,347.17 641.1,347.36 642.1,347.55 643.1,347.75 644.1,347.95 645.1,348.16 646.1,348.36 647.1,348.57 648.1,348.78 649.1,349 650.1,349.22 651.1,349.45 652.1,349.67 653.1,349.9 654.1,350.14 655.1,350.37 656.1,350.61 657.1,350.85 658.1,351.1 659.1,351.35 660.1,351.62 661.1,351.89 662.1,352.16 663.1,352.44 664.1,352.71 665.1,352.98 666.1,353.25 667.1,353.51 668.1,353.77 669.1,354.01 670.1,354.24 671.1,354.46 672.1,354.68 673.1,354.89 674.1,355.1 675.1,355.3 676.1,355.5 677.1,355.69 677.7,355.8"/>
<polyline fill="none" stroke="#0000ff" stroke-width="1" points="470.1,455.4 471.1,452.52 472.1,449.69 473.1,446.91 474.1,444.18 475.1,441.49 476.1,438.86 477.1,436.27 478.1,433.73 479.1,431.23 480.1,428.77 481.1,426.37 482.1,424 483.1,421.68 484.1,419.4 485.1,417.16 486.1,414.97 487.1,412.82 488.1,410.7 489.1,408.63 490.1,406.59 491.1,404.6 492.1,402.64 493.1,400.72 494.1,398.84 495.1,397 496.1,395.19 497.1,393.41 498.1,391.68 499.1,389.98 500.1,388.31 501.1,386.68 502.1,385.08 503.1,383.51 504.1,381.98 505.1,380.48 506.1,379.01 507.1,377.58 508.1,376.17 509.1,374.8 510.1,373.46 511.1,372.15 512.1,370.86 513.1,369.61 514.1,368.39 515.1,367.19 516.1,366.03 517.1,364.89 518.1,363.78 519.1,362.7 520.1,361.65 521.1,360.62 522.1,359.62 523.1,358.65 524.1,357.7 525.1,356.78 526.1,355.89 527.1,355.02 528.1,354.18 529.1,353.36 530.1,352.57 531.1,351.8 532.1,351.06 533.1,350.34 534.1,349.65 535.1,348.98 536.1,348.33 537.1,347.71 538.1,347.11 539.1,346.54 540.1,345.99 541.1,345.46 542.1,344.96 543.1,344.48 544.1,344.03 545.1,343.6 546.1,343.17 547.1,342.73 548.1,342.28 549.1,341.83 550.1,341.39 551.1,340.95 552.1,340.53 553.1,340.12 554.1,339.7 555.1,339.29 556.1,338.89 557.1,338.53 558.1,338.23 559.1,337.98 560.1,337.77 561.1,337.57 562.1,337.39 563.1,337.21 564.1,337 565.1,336.77 566.1,336.53 567.1,336.27 568.1,336.03 569.1,335.79 570.1,335.58 571.1,335.38 572.1,335.18 573.1,334.99 574.1,334.82 575.1,334.66 576.1,334.52 577.1,334.41 578.1,334.29 579.1,334.19 580.1,334.09 581.1,334 582.1,333.93 583.1,333.86 584.1,333.81 585.1,333.77 586.1,333.73 587.1,333.69 588.1,333.66 589.1,333.63 590.1,333.61 591.1,333.6 592.1,333.6 593.1,333.62 594.1,333.66 595.1,333.71 596.1,333.77 597.1,333.84 598.1,333.91 599.1,333.98 600.1,334.05 601.1,334.12 602.1,334.2 603.1,334.28 604.1,334.37 605.1,334.46 606.1,334.55 607.1,334.64 608.1,334.73 609.1,334.81 610.1,334.89 611.1,334.96 612.1,335.04 613.1,335.12 614.1,335.21 615.1,335.3 616.1,335.4 617.1,335.51 618.1,335.64 619.1,335.79 620.1,335.95 621.1,336.12 622.1,336.3 623.1,336.49 624.1,336.68 625.1,336.86 626.1,337.03 627.1,337.2 628.1,337.36 629.1,337.52 630.1,337.67 631.1,337.83 632.1,337.98 633.1,338.14 634.1,338.31 635.1,338.48 636.1,338.65 637.1,338.84 638.1,339.02 639.1,339.22 640.1,339.41 641.1,339.61 642.1,339.81 643.1,340.02 644.1,340.22 645.1,340.43 646.1,340.64 647.1,340.84 648.1,341.05 649.1,341.25 650.1,341.46 651.1,341.67 652.1,341.88 653.1,342.09 654.1,342.3 655.1,342.53 656.1,342.75 657.1,342.98 658.1,343.22 659.1,343.47 660.1,343.74 661.1,344.01 662.1,344.28 663.1,344.57 664.1,344.86 665.1,345.15 666.1,345.44 667.1,345.73 668.1,346.01 669.1,346.3 670.1,346.57 671.1,346.84 672.1,347.11 673.1,347.38 674.1,347.65 675.1,347.91 676.1,348.18 677.1,348.44 677.7,348.6"/>
<g fill="#ff0000"><path d="M669.5 352L671.8 356.2L667.2 356.2Z"/><path d="M657.3 348.8L659.6 353L655 353Z"/><path d="M645.8 346.2L648.1 350.4L643.5 350.4Z"/><path d="M634.7 344.1L637 348.3L632.4 348.3Z"/><path d="M624 342.5L626.3 346.7L621.7 346.7Z"/><path d="M614.7 340.9L617 345.1L612.4 345.1Z"/><path d="M605.7 340.2L608 344.4L603.4 344.4Z"/><path d="M597.3 339.2L599.6 343.4L595 343.4Z"/><path d="M589.8 338.8L592.1 343L587.5 343Z"/><path d="M582.4 339L584.7 343.2L580.1 343.2Z"/><path d="M575.5 339.6L577.8 343.8L573.2 343.8Z"/><path d="M568.8 340.6L571.1 344.8L566.5 344.8Z"/><path d="M562.7 341.8L565 346L560.4 346Z"/><path d="M556.8 343.3L559.1 347.5L554.5 347.5Z"/><path d="M551.5 344.9L553.8 349.1L549.2 349.1Z"/><path d="M546.8 346.48L549.1 350.68L544.5 350.68Z"/><path d="M542.2 348.4L544.5 352.6L539.9 352.6Z"/><path d="M537.6 350.96L539.9 355.16L535.3 355.16Z"/><path d="M533.6 353.09L535.9 357.29L531.3 357.29Z"/><path d="M530 355.35L532.3 359.55L527.7 359.55Z"/><path d="M526.5 358.13L528.8 362.33L524.2 362.33Z"/><path d="M522.9 361.28L525.2 365.48L520.6 365.48Z"/><path d="M519.3 364.75L521.6 368.95L517 368.95Z"/><path d="M516.3 367.91L518.6 372.11L514 372.11Z"/><path d="M513.2 371.42L515.5 375.62L510.9 375.62Z"/><path d="M510.2 375.08L512.5 379.28L507.9 379.28Z"/><path d="M507.7 378.33L510 382.53L505.4 382.53Z"/><path d="M504.6 382.61L506.9 386.81L502.3 386.81Z"/><path d="M501.26 387.56L503.56 391.76L498.96 391.76Z"/><path d="M499.33 390.58L501.63 394.78L497.03 394.78Z"/><path d="M497.52 393.53L499.82 397.73L495.22 397.73Z"/><path d="M495.82 396.4L498.12 400.6L493.52 400.6Z"/><path d="M494.22 399.18L496.52 403.38L491.92 403.38Z"/><path d="M492.73 401.87L495.03 406.07L490.43 406.07Z"/><path d="M491.32 404.46L493.62 408.66L489.02 408.66Z"/><path d="M490.01 406.96L492.31 411.16L487.71 411.16Z"/><path d="M488.77 409.36L491.07 413.56L486.47 413.56Z"/><path d="M487.62 411.67L489.92 415.87L485.32 415.87Z"/><path d="M486.53 413.88L488.83 418.08L484.23 418.08Z"/><path d="M485.51 415.99L487.81 420.19L483.21 420.19Z"/><path d="M484.56 418.01L486.86 422.21L482.26 422.21Z"/><path d="M483.66 419.94L485.96 424.14L481.36 424.14Z"/><path d="M482.82 421.78L485.12 425.98L480.52 425.98Z"/><path d="M482.03 423.53L484.33 427.73L479.73 427.73Z"/><path d="M481.29 425.2L483.59 429.4L478.99 429.4Z"/><path d="M480.6 426.78L482.9 430.98L478.3 430.98Z"/><path d="M479.95 428.28L482.25 432.48L477.65 432.48Z"/><path d="M479.34 429.71L481.64 433.91L477.04 433.91Z"/><path d="M478.76 431.06L481.06 435.26L476.46 435.26Z"/><path d="M478.23 432.34L480.53 436.54L475.93 436.54Z"/><path d="M477.72 433.55L480.02 437.75L475.42 437.75Z"/><path d="M477.25 434.7L479.55 438.9L474.95 438.9Z"/><path d="M476.81 435.79L479.11 439.99L474.51 439.99Z"/><path d="M476.39 436.81L478.69 441.01L474.09 441.01Z"/><path d="M476 437.78L478.3 441.98L473.7 441.98Z"/><path d="M475.63 438.7L477.93 442.9L473.33 442.9Z"/><path d="M475.29 439.56L477.59 443.76L472.99 443.76Z"/><path d="M474.97 440.38L477.27 444.58L472.67 444.58Z"/><path d="M474.67 441.15L476.97 445.35L472.37 445.35Z"/><path d="M474.38 441.87L476.68 446.07L472.08 446.07Z"/><path d="M474.12 442.56L476.42 446.76L471.82 446.76Z"/><path d="M473.87 443.2L476.17 447.4L471.57 447.4Z"/><path d="M473.64 443.81L475.94 448.01L471.34 448.01Z"/><path d="M473.42 444.38L475.72 448.58L471.12 448.58Z"/><path d="M473.21 444.92L475.51 449.12L470.91 449.12Z"/><path d="M473.02 445.42L475.32 449.62L470.72 449.62Z"/><path d="M472.84 445.9L475.14 450.1L470.54 450.1Z"/><path d="M472.67 446.35L474.97 450.55L470.37 450.55Z"/><path d="M472.51 446.77L474.81 450.97L470.21 450.97Z"/><path d="M472.36 447.17L474.66 451.37L470.06 451.37Z"/><path d="M472.22 447.54L474.52 451.74L469.92 451.74Z"/><path d="M472.09 447.89L474.39 452.09L469.79 452.09Z"/><path d="M471.96 448.22L474.26 452.42L469.66 452.42Z"/><path d="M471.85 448.53L474.15 452.73L469.55 452.73Z"/><path d="M471.74 448.82L474.04 453.02L469.44 453.02Z"/><path d="M471.64 449.1L473.94 453.3L469.34 453.3Z"/><path d="M471.54 449.35L473.84 453.55L469.24 453.55Z"/><path d="M471.45 449.6L473.75 453.8L469.15 453.8Z"/><path d="M471.37 449.82L473.67 454.02L469.07 454.02Z"/><path d="M471.29 450.04L473.59 454.24L468.99 454.24Z"/><path d="M471.22 450.24L473.52 454.44L468.92 454.44Z"/><path d="M471.15 450.42L473.45 454.62L468.85 454.62Z"/><path d="M471.08 450.6L473.38 454.8L468.78 454.8Z"/><path d="M471.02 450.77L473.32 454.97L468.72 454.97Z"/><path d="M470.96 450.92L473.26 455.12L468.66 455.12Z"/><path d="M470.91 451.07L473.21 455.27L468.61 455.27Z"/><path d="M470.86 451.21L473.16 455.41L468.56 455.41Z"/><path d="M470.81 451.34L473.11 455.54L468.51 455.54Z"/><path d="M470.77 451.46L473.07 455.66L468.47 455.66Z"/><path d="M470.73 451.57L473.03 455.77L468.43 455.77Z"/><path d="M470.69 451.68L472.99 455.88L468.39 455.88Z"/><path d="M470.65 451.78L472.95 455.98L468.35 455.98Z"/><path d="M470.62 451.87L472.92 456.07L468.32 456.07Z"/></g>
<g fill="#000"><rect x="665.95" y="359.75" width="4.1" height="4.1"/><rect x="650.35" y="355.95" width="4.1" height="4.1"/><rect x="638.95" y="353.35" width="4.1" height="4.1"/><rect x="628.75" y="351.65" width="4.1" height="4.1"/><rect x="618.75" y="349.75" width="4.1" height="4.1"/><rect x="609.75" y="348.35" width="4.1" height="4.1"/><rect x="600.05" y="347.45" width="4.1" height="4.1"/><rect x="591.85" y="346.65" width="4.1" height="4.1"/><rect x="584.45" y="346.45" width="4.1" height="4.1"/><rect x="577.35" y="346.75" width="4.1" height="4.1"/><rect x="570.65" y="346.95" width="4.1" height="4.1"/><rect x="564.25" y="347.95" width="4.1" height="4.1"/><rect x="558.45" y="348.85" width="4.1" height="4.1"/><rect x="553.05" y="350.35" width="4.1" height="4.1"/><rect x="547.85" y="351.95" width="4.1" height="4.1"/><rect x="543.25" y="353.53" width="4.1" height="4.1"/><rect x="538.15" y="355.8" width="4.1" height="4.1"/><rect x="534.05" y="357.7" width="4.1" height="4.1"/><rect x="529.95" y="359.92" width="4.1" height="4.1"/><rect x="526.45" y="361.99" width="4.1" height="4.1"/><rect x="522.85" y="364.76" width="4.1" height="4.1"/><rect x="519.35" y="367.78" width="4.1" height="4.1"/><rect x="516.25" y="370.7" width="4.1" height="4.1"/><rect x="512.75" y="374.28" width="4.1" height="4.1"/><rect x="509.65" y="377.73" width="4.1" height="4.1"/><rect x="506.65" y="381.3" width="4.1" height="4.1"/><rect x="502.57" y="386.56" width="4.1" height="4.1"/><rect x="500.43" y="389.52" width="4.1" height="4.1"/><rect x="498.42" y="392.42" width="4.1" height="4.1"/><rect x="496.54" y="395.25" width="4.1" height="4.1"/><rect x="494.78" y="398.01" width="4.1" height="4.1"/><rect x="493.12" y="400.69" width="4.1" height="4.1"/><rect x="491.56" y="403.28" width="4.1" height="4.1"/><rect x="490.11" y="405.79" width="4.1" height="4.1"/><rect x="488.74" y="408.22" width="4.1" height="4.1"/><rect x="487.46" y="410.55" width="4.1" height="4.1"/><rect x="486.25" y="412.8" width="4.1" height="4.1"/><rect x="485.12" y="414.96" width="4.1" height="4.1"/><rect x="484.07" y="417.04" width="4.1" height="4.1"/><rect x="483.07" y="419.02" width="4.1" height="4.1"/><rect x="482.14" y="420.93" width="4.1" height="4.1"/><rect x="481.27" y="422.75" width="4.1" height="4.1"/><rect x="480.45" y="424.49" width="4.1" height="4.1"/><rect x="479.68" y="426.15" width="4.1" height="4.1"/><rect x="478.96" y="427.74" width="4.1" height="4.1"/><rect x="478.28" y="429.24" width="4.1" height="4.1"/><rect x="477.65" y="430.68" width="4.1" height="4.1"/><rect x="477.05" y="432.05" width="4.1" height="4.1"/><rect x="476.49" y="433.35" width="4.1" height="4.1"/><rect x="475.97" y="434.58" width="4.1" height="4.1"/><rect x="475.48" y="435.75" width="4.1" height="4.1"/><rect x="475.02" y="436.85" width="4.1" height="4.1"/><rect x="474.59" y="437.9" width="4.1" height="4.1"/><rect x="474.18" y="438.88" width="4.1" height="4.1"/><rect x="473.8" y="439.82" width="4.1" height="4.1"/><rect x="473.44" y="440.69" width="4.1" height="4.1"/><rect x="473.11" y="441.52" width="4.1" height="4.1"/><rect x="472.8" y="442.29" width="4.1" height="4.1"/><rect x="472.5" y="443.02" width="4.1" height="4.1"/><rect x="472.23" y="443.71" width="4.1" height="4.1"/><rect x="471.97" y="444.35" width="4.1" height="4.1"/><rect x="471.72" y="444.95" width="4.1" height="4.1"/><rect x="471.5" y="445.51" width="4.1" height="4.1"/><rect x="471.28" y="446.04" width="4.1" height="4.1"/><rect x="471.08" y="446.53" width="4.1" height="4.1"/><rect x="470.89" y="446.99" width="4.1" height="4.1"/><rect x="470.72" y="447.42" width="4.1" height="4.1"/><rect x="470.55" y="447.82" width="4.1" height="4.1"/><rect x="470.4" y="448.19" width="4.1" height="4.1"/><rect x="470.25" y="448.54" width="4.1" height="4.1"/><rect x="470.12" y="448.86" width="4.1" height="4.1"/><rect x="469.99" y="449.16" width="4.1" height="4.1"/><rect x="469.87" y="449.45" width="4.1" height="4.1"/><rect x="469.75" y="449.71" width="4.1" height="4.1"/><rect x="469.65" y="449.95" width="4.1" height="4.1"/><rect x="469.55" y="450.18" width="4.1" height="4.1"/><rect x="469.46" y="450.39" width="4.1" height="4.1"/><rect x="469.37" y="450.59" width="4.1" height="4.1"/><rect x="469.29" y="450.77" width="4.1" height="4.1"/><rect x="469.21" y="450.94" width="4.1" height="4.1"/><rect x="469.14" y="451.1" width="4.1" height="4.1"/><rect x="469.07" y="451.25" width="4.1" height="4.1"/><rect x="469.01" y="451.39" width="4.1" height="4.1"/><rect x="468.95" y="451.52" width="4.1" height="4.1"/><rect x="468.89" y="451.64" width="4.1" height="4.1"/><rect x="468.84" y="451.75" width="4.1" height="4.1"/><rect x="468.79" y="451.86" width="4.1" height="4.1"/><rect x="468.75" y="451.95" width="4.1" height="4.1"/><rect x="468.7" y="452.04" width="4.1" height="4.1"/><rect x="468.66" y="452.13" width="4.1" height="4.1"/><rect x="468.62" y="452.21" width="4.1" height="4.1"/><rect x="468.59" y="452.28" width="4.1" height="4.1"/><rect x="468.56" y="452.35" width="4.1" height="4.1"/></g>
<g fill="#0000ff"><circle cx="670.2" cy="346.6" r="2.25"/><circle cx="658" cy="343.2" r="2.25"/><circle cx="646.4" cy="340.7" r="2.25"/><circle cx="635.8" cy="338.6" r="2.25"/><circle cx="626.5" cy="337.1" r="2.25"/><circle cx="617" cy="335.5" r="2.25"/><circle cx="607.8" cy="334.7" r="2.25"/><circle cx="599.4" cy="334" r="2.25"/><circle cx="591.7" cy="333.6" r="2.25"/><circle cx="584.3" cy="333.8" r="2.25"/><circle cx="576.3" cy="334.5" r="2.25"/><circle cx="570" cy="335.6" r="2.25"/><circle cx="564.1" cy="337" r="2.25"/><circle cx="558.2" cy="338.2" r="2.25"/><circle cx="552.9" cy="340.2" r="2.25"/><circle cx="547.3" cy="342.64" r="2.25"/><circle cx="542.7" cy="344.67" r="2.25"/><circle cx="538.7" cy="346.76" r="2.25"/><circle cx="534.4" cy="349.44" r="2.25"/><circle cx="530.5" cy="352.26" r="2.25"/><circle cx="527" cy="355.1" r="2.25"/><circle cx="523.4" cy="358.36" r="2.25"/><circle cx="519.8" cy="361.96" r="2.25"/><circle cx="516.8" cy="365.23" r="2.25"/><circle cx="513.8" cy="368.75" r="2.25"/><circle cx="511.2" cy="372.02" r="2.25"/><circle cx="508.7" cy="375.35" r="2.25"/><circle cx="506.1" cy="379.01" r="2.25"/><circle cx="504.1" cy="381.98" r="2.25"/><circle cx="501.37" cy="386.24" r="2.25"/><circle cx="499.43" cy="389.42" r="2.25"/><circle cx="497.61" cy="392.52" r="2.25"/><circle cx="495.91" cy="395.53" r="2.25"/><circle cx="494.31" cy="398.45" r="2.25"/><circle cx="492.81" cy="401.28" r="2.25"/><circle cx="491.4" cy="404.01" r="2.25"/><circle cx="490.08" cy="406.64" r="2.25"/><circle cx="488.84" cy="409.16" r="2.25"/><circle cx="487.68" cy="411.59" r="2.25"/><circle cx="486.59" cy="413.91" r="2.25"/><circle cx="485.57" cy="416.13" r="2.25"/><circle cx="484.61" cy="418.26" r="2.25"/><circle cx="483.71" cy="420.29" r="2.25"/><circle cx="482.86" cy="422.22" r="2.25"/><circle cx="482.07" cy="424.07" r="2.25"/><circle cx="481.33" cy="425.82" r="2.25"/><circle cx="480.63" cy="427.48" r="2.25"/><circle cx="479.98" cy="429.06" r="2.25"/><circle cx="479.37" cy="430.56" r="2.25"/><circle cx="478.79" cy="431.99" r="2.25"/><circle cx="478.25" cy="433.34" r="2.25"/><circle cx="477.75" cy="434.61" r="2.25"/><circle cx="477.28" cy="435.82" r="2.25"/><circle cx="476.83" cy="436.96" r="2.25"/><circle cx="476.41" cy="438.04" r="2.25"/><circle cx="476.02" cy="439.06" r="2.25"/><circle cx="475.65" cy="440.03" r="2.25"/><circle cx="475.31" cy="440.94" r="2.25"/><circle cx="474.99" cy="441.8" r="2.25"/><circle cx="474.68" cy="442.61" r="2.25"/><circle cx="474.4" cy="443.37" r="2.25"/><circle cx="474.13" cy="444.09" r="2.25"/><circle cx="473.88" cy="444.77" r="2.25"/><circle cx="473.65" cy="445.4" r="2.25"/><circle cx="473.43" cy="446.01" r="2.25"/><circle cx="473.22" cy="446.57" r="2.25"/><circle cx="473.03" cy="447.11" r="2.25"/><circle cx="472.85" cy="447.61" r="2.25"/><circle cx="472.68" cy="448.08" r="2.25"/><circle cx="472.52" cy="448.53" r="2.25"/><circle cx="472.37" cy="448.94" r="2.25"/><circle cx="472.23" cy="449.34" r="2.25"/><circle cx="472.09" cy="449.71" r="2.25"/><circle cx="471.97" cy="450.05" r="2.25"/><circle cx="471.86" cy="450.38" r="2.25"/><circle cx="471.75" cy="450.69" r="2.25"/><circle cx="471.64" cy="450.97" r="2.25"/><circle cx="471.55" cy="451.25" r="2.25"/><circle cx="471.46" cy="451.5" r="2.25"/><circle cx="471.37" cy="451.74" r="2.25"/><circle cx="471.3" cy="451.96" r="2.25"/><circle cx="471.22" cy="452.17" r="2.25"/><circle cx="471.15" cy="452.37" r="2.25"/><circle cx="471.09" cy="452.56" r="2.25"/><circle cx="471.03" cy="452.73" r="2.25"/><circle cx="470.97" cy="452.9" r="2.25"/><circle cx="470.91" cy="453.05" r="2.25"/><circle cx="470.86" cy="453.2" r="2.25"/><circle cx="470.82" cy="453.33" r="2.25"/><circle cx="470.77" cy="453.46" r="2.25"/><circle cx="470.73" cy="453.58" r="2.25"/><circle cx="470.69" cy="453.69" r="2.25"/><circle cx="470.65" cy="453.8" r="2.25"/><circle cx="470.62" cy="453.9" r="2.25"/></g>
<circle cx="315.4" cy="63" r="2.4" fill="#000"/>
<text x="331.3" y="66.85" font-size="11.75" font-weight="normal" text-anchor="start" fill="#111" textLength="25.12" lengthAdjust="spacingAndGlyphs">Total</text>
<rect x="313.1" y="78.9" width="4.6" height="4.4" fill="#00b400"/>
<text x="331.3" y="84.95" font-size="11.75" font-weight="normal" text-anchor="start" fill="#111" textLength="28.88" lengthAdjust="spacingAndGlyphs">Trues</text>
<path d="M312.9 96.7L317.9 96.7L315.4 101.7Z" fill="#0000ff"/>
<text x="331.3" y="103.05" font-size="11.75" font-weight="normal" text-anchor="start" fill="#111" textLength="35.8" lengthAdjust="spacingAndGlyphs">Scatter</text>
<circle cx="315.4" cy="117.6" r="1.95" fill="none" stroke="#9a9aa0" stroke-width="1.2"/>
<text x="331.3" y="121.45" font-size="11.75" font-weight="normal" text-anchor="start" fill="#111" textLength="48.35" lengthAdjust="spacingAndGlyphs">Randoms</text>
<path d="M315.4 133.7L317.9 138.4L312.9 138.4Z" fill="#ff0000"/>
<text x="331.3" y="139.95" font-size="11.75" font-weight="normal" text-anchor="start" fill="#111" textLength="23.85" lengthAdjust="spacingAndGlyphs">NEC</text>
<circle cx="314.4" cy="326.8" r="2.4" fill="#000"/>
<text x="330" y="330.65" font-size="11.75" font-weight="normal" text-anchor="start" fill="#111" textLength="25.12" lengthAdjust="spacingAndGlyphs">Total</text>
<rect x="312.1" y="343.1" width="4.6" height="4.4" fill="#00b400"/>
<text x="330" y="349.15" font-size="11.75" font-weight="normal" text-anchor="start" fill="#111" textLength="28.88" lengthAdjust="spacingAndGlyphs">Trues</text>
<path d="M311.9 360.9L316.9 360.9L314.4 365.9Z" fill="#0000ff"/>
<text x="330" y="367.25" font-size="11.75" font-weight="normal" text-anchor="start" fill="#111" textLength="35.8" lengthAdjust="spacingAndGlyphs">Scatter</text>
<circle cx="314.4" cy="381.7" r="1.95" fill="none" stroke="#9a9aa0" stroke-width="1.2"/>
<text x="330" y="385.55" font-size="11.75" font-weight="normal" text-anchor="start" fill="#111" textLength="48.35" lengthAdjust="spacingAndGlyphs">Randoms</text>
<path d="M314.4 397.9L316.9 402.6L311.9 402.6Z" fill="#ff0000"/>
<text x="330" y="404.15" font-size="11.75" font-weight="normal" text-anchor="start" fill="#111" textLength="23.85" lengthAdjust="spacingAndGlyphs">NEC</text>
<path d="M602.8 405.2H617.8" stroke="#ff0000" stroke-width="1"/>
<path d="M610.3 403.1L612.5 407.1L608.1 407.1Z" fill="#ff0000"/>
<text x="625.9" y="408.2" font-size="9.9" font-weight="normal" text-anchor="start" fill="#111" textLength="56.6" lengthAdjust="spacingAndGlyphs">NEC Quad86</text>
<path d="M602.8 424.9H617.8" stroke="#000" stroke-width="1"/>
<rect x="608.3" y="422.9" width="4.0" height="4.0" fill="#000"/>
<text x="625.9" y="427.9" font-size="9.9" font-weight="normal" text-anchor="start" fill="#111" textLength="56.6" lengthAdjust="spacingAndGlyphs">NEC Quad72</text>
<path d="M602.8 444.6H617.8" stroke="#0000ff" stroke-width="1"/>
<circle cx="610.3" cy="444.6" r="2.0" fill="#0000ff"/>
<text x="625.9" y="447.6" font-size="9.9" font-weight="normal" text-anchor="start" fill="#111" textLength="56.6" lengthAdjust="spacingAndGlyphs">NEC Quad35</text>
</svg>
</body></html>
